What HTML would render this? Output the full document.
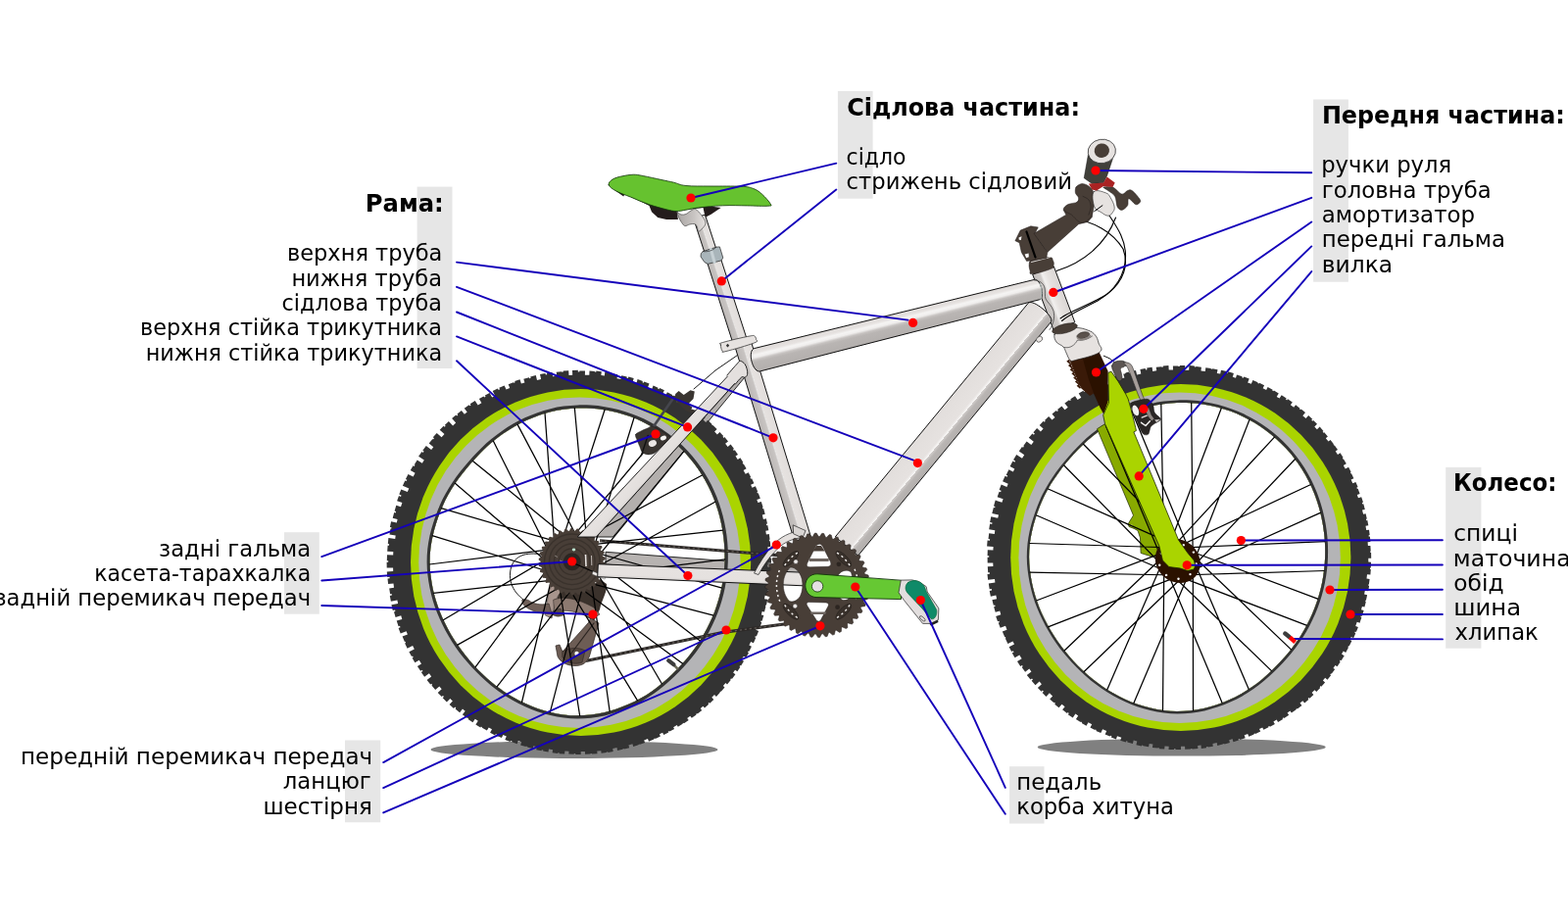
<!DOCTYPE html>
<html lang="uk"><head><meta charset="utf-8"><title>Велосипед</title>
<style>html,body{margin:0;padding:0;background:#fff}svg{display:block;will-change:transform}text{font-family:"DejaVu Sans","Liberation Sans",sans-serif;fill:#000}.b{font-weight:bold}</style></head>
<body>
<svg width="1600" height="942" viewBox="0 0 1600 942">
<defs><clipPath id="clip_rear"><path clip-rule="evenodd" d="M0 0H1700V1000H0ZM1351.6 568.4C1351.5 572.8 1351.1 577.1 1350.6 581.5C1350.1 585.8 1349.4 590.1 1348.6 594.4C1347.7 598.6 1346.6 602.9 1345.4 607C1344.2 611.2 1342.8 615.3 1341.3 619.4C1339.7 623.4 1338 627.4 1336.1 631.3C1334.3 635.2 1332.3 639.1 1330.1 642.8C1327.9 646.6 1325.6 650.2 1323.2 653.8C1320.7 657.4 1318.1 660.9 1315.4 664.2C1312.7 667.6 1309.8 670.9 1306.9 674.1C1303.9 677.3 1300.9 680.4 1297.7 683.4C1294.5 686.4 1291.3 689.4 1287.9 692.3C1284.5 695.1 1281.1 697.9 1277.4 700.4C1273.8 703 1270 705.4 1266.1 707.6C1262.2 709.8 1258.2 711.8 1254 713.6C1249.9 715.4 1245.7 717.1 1241.4 718.5C1237.1 720 1232.8 721.3 1228.3 722.3C1223.9 723.3 1219.4 724.1 1214.9 724.6C1210.3 725.1 1205.8 725.3 1201.2 725.3C1196.6 725.3 1192.1 724.9 1187.6 724.4C1183 723.8 1178.5 723 1174.1 721.9C1169.7 720.9 1165.3 719.6 1161.1 718.2C1156.8 716.7 1152.6 715 1148.5 713.1C1144.4 711.3 1140.4 709.2 1136.6 707C1132.7 704.8 1128.9 702.4 1125.3 699.9C1121.7 697.4 1118.1 694.7 1114.7 691.9C1111.3 689.1 1108 686.2 1104.9 683.2C1101.7 680.2 1098.7 677.1 1095.7 673.9C1092.8 670.7 1090 667.4 1087.3 664C1084.6 660.6 1082 657.2 1079.5 653.6C1077.1 650.1 1074.7 646.4 1072.5 642.7C1070.3 639 1068.3 635.2 1066.4 631.3C1064.5 627.4 1062.7 623.4 1061.1 619.4C1059.5 615.4 1058.1 611.2 1056.8 607.1C1055.6 602.9 1054.5 598.7 1053.6 594.4C1052.8 590.2 1052.1 585.8 1051.6 581.5C1051.1 577.2 1050.8 572.8 1050.8 568.4C1050.8 564 1051 559.6 1051.5 555.3C1052 551 1052.7 546.6 1053.7 542.4C1054.6 538.1 1055.8 533.9 1057.1 529.8C1058.3 525.6 1059.8 521.5 1061.4 517.5C1063 513.5 1064.7 509.5 1066.6 505.6C1068.5 501.8 1070.7 498 1072.9 494.3C1075.2 490.7 1077.6 487.1 1080.1 483.6C1082.6 480.1 1085.3 476.7 1088 473.4C1090.7 470.1 1093.5 466.8 1096.5 463.7C1099.4 460.5 1102.3 457.3 1105.5 454.3C1108.6 451.3 1111.8 448.4 1115.2 445.6C1118.6 442.8 1122.1 440.1 1125.7 437.6C1129.3 435.1 1133 432.7 1136.9 430.4C1140.7 428.2 1144.7 426.1 1148.7 424.3C1152.8 422.4 1157 420.7 1161.2 419.2C1165.5 417.7 1169.8 416.3 1174.2 415.3C1178.6 414.2 1183.1 413.3 1187.6 412.7C1192.1 412.1 1196.6 411.7 1201.2 411.5C1205.8 411.3 1210.3 411.4 1214.9 411.7C1219.5 412 1224 412.5 1228.6 413.2C1233.1 413.9 1237.6 414.9 1242 416C1246.5 417.2 1250.9 418.5 1255.2 420.1C1259.5 421.7 1263.7 423.5 1267.9 425.4C1272 427.4 1276.1 429.6 1280 432C1283.9 434.3 1287.7 436.9 1291.4 439.6C1295.1 442.3 1298.6 445.2 1302 448.2C1305.4 451.3 1308.7 454.5 1311.8 457.8C1314.9 461.2 1317.8 464.6 1320.6 468.2C1323.3 471.8 1325.9 475.6 1328.3 479.4C1330.7 483.2 1332.9 487.2 1334.9 491.2C1336.9 495.2 1338.8 499.3 1340.4 503.5C1342.1 507.6 1343.5 511.9 1344.8 516.1C1346.1 520.4 1347.2 524.7 1348.1 529C1349 533.4 1349.8 537.7 1350.3 542.1C1350.9 546.5 1351.3 550.9 1351.5 555.3C1351.7 559.6 1351.7 564 1351.6 568.4Z"/></clipPath><linearGradient id="g_ss" gradientUnits="userSpaceOnUse" x1="672" y1="455" x2="684" y2="466"><stop offset="0" stop-color="#dcd8d6"/><stop offset="0.3" stop-color="#e6e2e0"/><stop offset="0.8" stop-color="#e3dfdd"/><stop offset="1" stop-color="#d0ccca"/></linearGradient><linearGradient id="g_cs" gradientUnits="userSpaceOnUse" x1="716.3" y1="579.9" x2="715.7" y2="593.4"><stop offset="0" stop-color="#dcd8d6"/><stop offset="0.2" stop-color="#e6e2e0"/><stop offset="0.8" stop-color="#e5e1df"/><stop offset="1" stop-color="#d4d0ce"/></linearGradient><linearGradient id="g_ht" gradientUnits="userSpaceOnUse" x1="1086" y1="300.4" x2="1064.5" y2="308.6"><stop offset="0" stop-color="#dad6d4"/><stop offset="0.4" stop-color="#e6e2e0"/><stop offset="0.6" stop-color="#f2f0ef"/><stop offset="0.7" stop-color="#cfcbc9"/><stop offset="1" stop-color="#c4c0be"/></linearGradient><linearGradient id="g_dt" gradientUnits="userSpaceOnUse" x1="950.7" y1="428.6" x2="974" y2="447.9"><stop offset="0" stop-color="#e2dedc"/><stop offset="0.6" stop-color="#e6e2e0"/><stop offset="0.7" stop-color="#f8f7f6"/><stop offset="0.7" stop-color="#d0ccca"/><stop offset="0.8" stop-color="#b9b5b3"/><stop offset="1" stop-color="#b3afad"/></linearGradient><linearGradient id="g_st" gradientUnits="userSpaceOnUse" x1="796.7" y1="447.5" x2="780.2" y2="452.5"><stop offset="0" stop-color="#e1dddb"/><stop offset="0.5" stop-color="#e6e2e0"/><stop offset="0.5" stop-color="#ecebea"/><stop offset="0.6" stop-color="#c8c4c2"/><stop offset="1" stop-color="#bcb8b6"/></linearGradient><linearGradient id="g_sp" gradientUnits="userSpaceOnUse" x1="749.1" y1="305.7" x2="735" y2="310.3"><stop offset="0" stop-color="#e1dddb"/><stop offset="0.5" stop-color="#e6e2e0"/><stop offset="0.5" stop-color="#ecebea"/><stop offset="0.6" stop-color="#c8c4c2"/><stop offset="1" stop-color="#bcb8b6"/></linearGradient><linearGradient id="g_tt" gradientUnits="userSpaceOnUse" x1="912.5" y1="319.7" x2="918.3" y2="343.1"><stop offset="0" stop-color="#dedad8"/><stop offset="0.2" stop-color="#e6e2e0"/><stop offset="0.3" stop-color="#f5f4f3"/><stop offset="0.4" stop-color="#efedec"/><stop offset="0.5" stop-color="#c6c2c0"/><stop offset="0.6" stop-color="#b9b5b3"/><stop offset="1" stop-color="#b3afad"/></linearGradient><linearGradient id="g_up" gradientUnits="userSpaceOnUse" x1="724.9" y1="236.1" x2="713.2" y2="239.9"><stop offset="0" stop-color="#e1dddb"/><stop offset="0.5" stop-color="#e6e2e0"/><stop offset="0.5" stop-color="#ecebea"/><stop offset="0.6" stop-color="#c8c4c2"/><stop offset="1" stop-color="#bcb8b6"/></linearGradient><clipPath id="clip_front"><path clip-rule="evenodd" d="M0 0H1700V1000H0ZM1352.1 568.5C1352 572.9 1351.6 577.3 1351.1 581.6C1350.6 586 1349.9 590.3 1349.1 594.6C1348.2 598.9 1347.1 603.1 1345.9 607.3C1344.7 611.5 1343.3 615.6 1341.7 619.7C1340.2 623.8 1338.5 627.8 1336.6 631.7C1334.7 635.6 1332.7 639.5 1330.5 643.2C1328.3 647 1326 650.7 1323.6 654.3C1321.1 657.8 1318.5 661.3 1315.8 664.7C1313 668.1 1310.2 671.4 1307.2 674.6C1304.2 677.8 1301.2 680.9 1298 684C1294.8 687 1291.6 690 1288.2 692.9C1284.8 695.7 1281.3 698.5 1277.6 701C1274 703.6 1270.2 706 1266.3 708.2C1262.3 710.4 1258.3 712.4 1254.1 714.2C1250 716.1 1245.8 717.8 1241.5 719.2C1237.2 720.7 1232.8 722 1228.3 723C1223.9 724 1219.4 724.8 1214.8 725.3C1210.3 725.8 1205.7 726 1201.1 726C1196.5 726 1191.9 725.6 1187.4 725.1C1182.9 724.5 1178.4 723.7 1173.9 722.6C1169.5 721.6 1165.1 720.3 1160.8 718.8C1156.5 717.4 1152.3 715.7 1148.2 713.8C1144.1 711.9 1140.1 709.9 1136.2 707.6C1132.3 705.4 1128.5 703 1124.9 700.5C1121.2 698 1117.7 695.3 1114.3 692.5C1110.9 689.7 1107.6 686.8 1104.4 683.7C1101.2 680.7 1098.2 677.6 1095.2 674.4C1092.3 671.2 1089.4 667.9 1086.7 664.5C1084 661.1 1081.4 657.6 1078.9 654C1076.5 650.5 1074.1 646.8 1071.9 643.1C1069.7 639.4 1067.6 635.5 1065.7 631.6C1063.8 627.7 1062 623.7 1060.4 619.7C1058.8 615.7 1057.4 611.5 1056.1 607.3C1054.9 603.2 1053.8 598.9 1052.9 594.6C1052.1 590.3 1051.4 586 1050.9 581.6C1050.4 577.3 1050.1 572.9 1050.1 568.5C1050.1 564.1 1050.3 559.7 1050.8 555.3C1051.3 551 1052 546.7 1053 542.4C1053.9 538.1 1055.1 533.9 1056.4 529.7C1057.7 525.6 1059.1 521.4 1060.7 517.4C1062.3 513.4 1064 509.4 1066 505.5C1067.9 501.6 1070.1 497.8 1072.3 494.1C1074.6 490.5 1077 486.9 1079.5 483.4C1082.1 479.9 1084.7 476.5 1087.4 473.1C1090.2 469.8 1093 466.5 1095.9 463.3C1098.9 460.1 1101.8 457 1105 454C1108.1 450.9 1111.4 448 1114.8 445.2C1118.1 442.4 1121.7 439.7 1125.3 437.2C1128.9 434.6 1132.7 432.2 1136.5 430C1140.4 427.8 1144.4 425.7 1148.4 423.8C1152.5 421.9 1156.7 420.2 1161 418.7C1165.2 417.2 1169.6 415.9 1174 414.8C1178.4 413.7 1182.9 412.8 1187.4 412.2C1191.9 411.6 1196.5 411.2 1201.1 411C1205.7 410.8 1210.3 410.9 1214.9 411.2C1219.4 411.5 1224 412 1228.6 412.7C1233.1 413.4 1237.6 414.4 1242.1 415.5C1246.5 416.7 1251 418.1 1255.3 419.6C1259.6 421.2 1263.9 423 1268 425C1272.2 427 1276.2 429.2 1280.2 431.5C1284.1 433.9 1288 436.5 1291.6 439.2C1295.3 441.9 1298.9 444.8 1302.3 447.9C1305.7 450.9 1309 454.1 1312.1 457.5C1315.2 460.8 1318.2 464.3 1320.9 468C1323.7 471.6 1326.3 475.3 1328.7 479.2C1331.1 483 1333.3 487 1335.3 491C1337.4 495 1339.2 499.2 1340.9 503.3C1342.5 507.5 1344 511.7 1345.3 516C1346.6 520.3 1347.7 524.6 1348.6 529C1349.5 533.3 1350.3 537.7 1350.8 542.1C1351.4 546.5 1351.8 550.9 1352 555.3C1352.2 559.7 1352.2 564.1 1352.1 568.5Z"/></clipPath><linearGradient id="g_head" x1="0" y1="0" x2="1" y2="0"><stop offset="0" stop-color="#a9a5a3"/><stop offset="0.6" stop-color="#c9c5c3"/><stop offset="1" stop-color="#e4e0de"/></linearGradient><radialGradient id="g_rim" gradientUnits="userSpaceOnUse" cx="1203" cy="569" r="168"><stop offset="0.9" stop-color="#c4c4c4"/><stop offset="0.95" stop-color="#b4b4bc"/><stop offset="1" stop-color="#b3b3b3"/></radialGradient></defs>
<ellipse cx="1205.7" cy="762.6" rx="147" ry="9" fill="#808080"/>
<ellipse cx="586" cy="765" rx="146.5" ry="9" fill="#808080"/>
<rect x="425.6" y="190.6" width="35.9" height="185.4" fill="#e6e6e6"/>
<rect x="854.9" y="93" width="35.7" height="109.7" fill="#e6e6e6"/>
<rect x="1340.1" y="101.5" width="35.8" height="186.2" fill="#e6e6e6"/>
<rect x="1475.2" y="476.9" width="36.2" height="184.8" fill="#e6e6e6"/>
<rect x="290" y="543.2" width="35.8" height="83.5" fill="#e6e6e6"/>
<rect x="352" y="755.5" width="36.2" height="83.8" fill="#e6e6e6"/>
<rect x="1030" y="782.2" width="35.5" height="58.3" fill="#e6e6e6"/>
<path d="M765.5 374 L769 374 L625.4 548 L608.4 548Z" fill="#b3afad" stroke="#111" stroke-width="0.9" stroke-linejoin="round"/>
<path d="M618 563.3 L820 578.5 L820 590 L618 576Z" fill="#b7b3b1" stroke="#111" stroke-width="0.9" stroke-linejoin="round"/>
<g transform="translate(-612.2 5)"><g clip-path="url(#clip_rear)">
<path d="M1395.7 569.8 L1395.6 573.5 L1399 573.5 L1398.8 579.3 L1397.7 579.3 L1397.7 580.8 L1398.4 580.8 L1398 586.6 L1395 586.3 L1394.6 590.5 L1397.9 590.9 L1397.2 596.3 L1396.1 596.2 L1395.9 597.7 L1397.1 597.8 L1396.2 603.3 L1392.8 602.7 L1392.2 606.2 L1395.4 606.8 L1394.2 612.5 L1393.6 612.4 L1393.2 613.8 L1393.6 613.9 L1392.2 619.6 L1389.9 619 L1389 622.4 L1391.5 623.1 L1389.8 628.7 L1388.8 628.4 L1388.4 629.8 L1389.4 630.2 L1387.5 635.7 L1384.5 634.6 L1383.3 637.8 L1386.3 639 L1384.1 644.4 L1383.1 644 L1382.5 645.4 L1383.5 645.8 L1381.1 651.2 L1378.3 649.9 L1376.6 653.5 L1379.1 654.7 L1376.6 659.7 L1375.9 659.4 L1375.2 660.7 L1376.2 661.2 L1373.5 666.1 L1371 664.7 L1368.9 668.4 L1371.2 669.8 L1368.3 674.4 L1367.5 673.9 L1366.7 675.2 L1367.6 675.8 L1364.6 680.3 L1362.3 678.7 L1360.3 681.5 L1362.6 683.2 L1359.1 687.9 L1358.3 687.2 L1357.4 688.4 L1357.9 688.9 L1354.2 693.4 L1352.6 692.1 L1350.1 695.1 L1351.7 696.5 L1348 700.7 L1347.7 700.5 L1346.7 701.6 L1346.9 701.8 L1343.1 705.9 L1341.2 704 L1338.5 706.8 L1340.5 708.9 L1336.5 712.8 L1335.8 712.1 L1334.7 713.1 L1335.4 713.8 L1331.2 717.5 L1329.6 715.7 L1326.9 718 L1328.4 719.9 L1323.9 723.5 L1323.5 723 L1322.3 723.9 L1322.7 724.4 L1318 727.8 L1316.5 725.7 L1313.4 728 L1314.9 730.1 L1310.2 733.2 L1309.9 732.8 L1308.6 733.6 L1308.8 733.8 L1304 736.8 L1302.9 735.1 L1299.3 737.2 L1300.3 739 L1295.5 741.6 L1295.2 741 L1293.9 741.7 L1294.4 742.6 L1289.5 745.1 L1288.3 742.7 L1285.1 744.2 L1286.1 746.6 L1280.9 749 L1280.7 748.4 L1279.3 749 L1279.5 749.5 L1274.2 751.7 L1273.2 749 L1269.4 750.4 L1270.3 752.9 L1265.1 754.7 L1265 754.4 L1263.6 754.9 L1263.7 755.2 L1258.4 756.9 L1257.6 754.3 L1253.6 755.4 L1254.4 758.2 L1249.1 759.6 L1248.9 759 L1247.5 759.4 L1247.6 759.7 L1242.2 760.9 L1241.7 758.1 L1237.4 758.9 L1237.9 762.1 L1232.6 763 L1232.5 762.2 L1231 762.4 L1231.1 763.1 L1225.8 763.8 L1225.5 761.2 L1221.5 761.6 L1221.7 764.2 L1216.2 764.6 L1216.1 764 L1214.7 764.1 L1214.7 764.5 L1209.2 764.7 L1209.1 762 L1204.9 762.1 L1204.9 765.1 L1199.4 765 L1199.4 764 L1198 763.9 L1197.9 764.7 L1192.5 764.5 L1192.7 761.7 L1188.6 761.4 L1188.3 764.6 L1182.8 764.2 L1182.9 763.3 L1181.4 763.2 L1181.3 763.9 L1175.8 763.2 L1176.3 760.3 L1172.2 759.6 L1171.7 762.6 L1166.3 761.6 L1166.5 760.4 L1165 760.2 L1164.8 761.3 L1159.4 760.2 L1160.1 757.2 L1156.5 756.3 L1155.8 759 L1150.3 757.5 L1150.4 757.1 L1148.9 756.6 L1148.8 757.1 L1143.3 755.4 L1144.4 752.3 L1141 751.1 L1139.9 754.3 L1134.4 752.3 L1134.8 751.4 L1133.4 750.9 L1132.9 752.1 L1127.5 749.9 L1129 746.4 L1125.6 744.9 L1124.1 748.1 L1118.9 745.7 L1119.4 744.8 L1118 744.1 L1117.4 745.4 L1112.3 742.8 L1114.2 739.2 L1110.9 737.4 L1109.1 740.6 L1104.1 737.8 L1104.4 737.4 L1103.1 736.6 L1102.5 737.5 L1097.6 734.5 L1100 730.8 L1097 728.8 L1094.6 732.3 L1089.8 729 L1090.3 728.2 L1089.1 727.4 L1088.8 727.8 L1084.1 724.3 L1086.9 720.8 L1084.2 718.6 L1081.3 722.2 L1076.8 718.4 L1077.5 717.5 L1076.4 716.5 L1075.2 717.9 L1070.8 713.9 L1074.1 710.4 L1071.5 707.9 L1068.1 711.4 L1063.9 707.3 L1065.2 706 L1064.2 705 L1062.9 706.1 L1058.9 701.9 L1062.9 698.2 L1060.5 695.5 L1056.4 699.1 L1052.6 694.6 L1053.4 693.9 L1052.5 692.8 L1051.4 693.6 L1047.8 689 L1052.4 685.5 L1050.1 682.3 L1045.3 685.7 L1042 681.1 L1043.7 680 L1042.8 678.7 L1041.3 679.7 L1038.1 675 L1042.2 672.5 L1039.9 668.7 L1035.6 671.3 L1032.8 666.5 L1034 665.9 L1033.2 664.5 L1032.2 665.1 L1029.6 660.3 L1035 657.5 L1033.3 654.1 L1027.8 656.8 L1025.3 651.6 L1026.4 651.1 L1025.7 649.7 L1025.1 650 L1022.8 644.6 L1028.1 642.5 L1026.8 639.2 L1020.9 641.5 L1018.8 635.9 L1020.7 635.2 L1020.2 633.8 L1018.8 634.3 L1016.9 628.6 L1022.5 626.9 L1021.4 623.3 L1015.8 625 L1014.2 619.4 L1015.6 619 L1015.3 617.5 L1013 618.1 L1011.6 612.3 L1018.3 610.9 L1017.6 607.5 L1011.1 608.8 L1010 602.9 L1012.1 602.5 L1011.8 601 L1010.3 601.3 L1009.4 595.4 L1014.2 594.7 L1013.7 590.4 L1008.3 591 L1007.7 585.5 L1009.9 585.3 L1009.7 583.8 L1007.4 583.9 L1007 578.4 L1013.4 578.1 L1013.3 574.5 L1006.9 574.6 L1006.8 568.7 L1008.4 568.7 L1008.4 567.2 L1007 567.2 L1007.2 561.2 L1013.4 561.5 L1013.5 558 L1007.4 557.7 L1007.8 551.7 L1009.2 551.8 L1009.3 550.3 L1008 550.1 L1008.6 544.1 L1015.4 545 L1015.9 541.4 L1009.7 540.5 L1010.7 534.6 L1011.4 534.8 L1011.7 533.3 L1010.1 533 L1011.3 527.2 L1017 528.4 L1017.8 524.9 L1012.9 523.7 L1014.4 518 L1015.9 518.4 L1016.3 516.9 L1014.8 516.5 L1016.5 510.8 L1021.2 512.3 L1022.6 508.1 L1017.3 506.3 L1019.2 501.1 L1021.2 501.9 L1021.7 500.4 L1019.5 499.6 L1021.5 494.5 L1028 497.1 L1029.5 493.5 L1023.1 490.7 L1025.5 485.5 L1026.9 486.1 L1027.6 484.7 L1026.1 484.1 L1028.7 478.9 L1033.8 481.5 L1035.8 477.7 L1031 475.1 L1033.7 470.2 L1034.9 470.9 L1035.7 469.6 L1035 469.2 L1037.9 464.5 L1043 467.7 L1045 464.5 L1039.3 460.8 L1042.6 456 L1043.9 456.9 L1044.8 455.6 L1043.5 454.7 L1047 450 L1052.3 454 L1054.5 451.2 L1049.9 447.6 L1053.6 443 L1054.2 443.5 L1055.2 442.3 L1054 441.3 L1057.9 436.9 L1062.8 441.3 L1065.7 438.1 L1060.9 433.7 L1064.8 429.7 L1065.9 430.7 L1066.9 429.7 L1066.1 428.8 L1070.1 425 L1074.3 429.5 L1077.4 426.6 L1073.3 422.1 L1077.5 418.4 L1078.3 419.4 L1079.5 418.4 L1078.7 417.5 L1083.1 414 L1086.1 417.8 L1088.9 415.6 L1086 411.8 L1090.8 408.3 L1091.5 409.3 L1092.7 408.4 L1091.9 407.3 L1096.9 404 L1099.9 408.6 L1103.6 406.2 L1101.1 402.1 L1105.7 399.4 L1106.4 400.5 L1107.7 399.8 L1107.1 398.6 L1111.8 396 L1114.3 400.6 L1117.4 398.9 L1114.9 393.9 L1120.1 391.4 L1120.9 393 L1122.3 392.3 L1121.5 390.7 L1126.9 388.4 L1128.7 392.4 L1132.4 390.9 L1130.9 387.2 L1136.1 385.2 L1136.4 385.8 L1137.8 385.3 L1137.4 384.1 L1142.7 382.3 L1144.1 386.5 L1147.6 385.4 L1146.5 381.8 L1152.1 380.2 L1152.4 381.3 L1153.8 380.9 L1153.4 379.4 L1159 378 L1160.2 382.9 L1164.3 382 L1163.2 377.1 L1168.7 376 L1169 377.6 L1170.4 377.3 L1170.2 375.7 L1175.6 374.9 L1176.3 379.3 L1180.4 378.7 L1179.9 374.7 L1185.4 374.2 L1185.5 374.7 L1187 374.6 L1186.9 373.6 L1192.4 373.3 L1192.7 378 L1196.4 377.8 L1196.2 372.9 L1202 372.8 L1202 374.5 L1203.5 374.5 L1203.5 373.4 L1209.2 373.4 L1209.1 377.7 L1213.5 377.8 L1213.7 373.6 L1219.1 374 L1219 374.5 L1220.5 374.7 L1220.6 373.6 L1226 374.2 L1225.6 377.9 L1229 378.4 L1229.5 374.8 L1235.3 375.6 L1235.2 376.5 L1236.6 376.8 L1236.7 376.2 L1242.5 377.3 L1241.7 381.3 L1245.6 382.1 L1246.4 378.2 L1251.9 379.5 L1251.6 380.5 L1253.1 380.9 L1253.5 379.4 L1258.9 380.9 L1257.9 384.4 L1261.8 385.6 L1262.8 382.1 L1268.1 383.9 L1267.7 385.3 L1269.1 385.8 L1269.5 384.6 L1274.7 386.5 L1273.2 390.4 L1277.4 392.1 L1278.8 388.6 L1283.7 390.7 L1283.3 391.6 L1284.7 392.2 L1285.2 391 L1290.1 393.3 L1288.6 396.3 L1291.8 397.9 L1293.1 395.3 L1298.3 398 L1298.1 398.4 L1299.4 399.2 L1299.8 398.5 L1304.8 401.4 L1302.7 404.9 L1306.1 406.9 L1308 403.8 L1312.7 406.9 L1312.5 407.3 L1313.7 408.1 L1314.1 407.5 L1318.8 410.8 L1316.9 413.3 L1320.2 415.8 L1322.1 413.2 L1326.4 416.7 L1325.7 417.6 L1326.8 418.6 L1327.7 417.5 L1332 421.1 L1329.8 423.6 L1332.4 425.9 L1334.3 423.8 L1338.6 427.8 L1338.3 428.1 L1339.4 429.2 L1339.7 428.9 L1343.8 433 L1341.3 435.5 L1344.1 438.4 L1346.6 436 L1350.4 440.1 L1349.7 440.7 L1350.7 441.9 L1351.6 441.1 L1355.2 445.4 L1352.3 447.8 L1354.8 450.9 L1357.8 448.5 L1361.2 453 L1360.2 453.8 L1361 455 L1362 454.3 L1365.2 458.9 L1362.7 460.6 L1365 464 L1367.6 462.3 L1370.6 467 L1369.8 467.4 L1370.6 468.7 L1371 468.5 L1373.8 473.3 L1370.8 475 L1372.9 478.8 L1375.9 477.2 L1378.4 482 L1377.6 482.4 L1378.3 483.8 L1379.3 483.2 L1381.6 488.2 L1378.3 489.7 L1379.7 492.8 L1383.1 491.2 L1385.4 496.7 L1384.6 497.1 L1385.2 498.5 L1386 498.2 L1388 503.7 L1384.5 505 L1385.6 508.1 L1389 507 L1390.8 512.7 L1390.1 512.9 L1390.6 514.3 L1391.4 514.1 L1392.9 519.8 L1390 520.6 L1391.1 524.9 L1394 524.2 L1395.2 529.5 L1394 529.7 L1394.3 531.2 L1395.5 531 L1396.5 536.3 L1393.5 536.8 L1394.1 540.4 L1397 539.9 L1397.8 545.7 L1397 545.8 L1397.2 547.3 L1398 547.2 L1398.5 553 L1395.6 553.2 L1396 557.6 L1398.9 557.5 L1399.1 562.9 L1398.3 562.9 L1398.3 564.4 L1399.1 564.4 L1399.2 569.8Z" fill="#333"/>
<ellipse cx="1204.8" cy="569" rx="173.6" ry="177" fill="#aad400"/>
<ellipse cx="1203.6" cy="569.3" rx="164.2" ry="168.8" fill="#b4b4b6"/>
<path d="M1355 568.4C1354.9 572.9 1354.5 577.3 1354 581.8C1353.5 586.2 1352.8 590.6 1351.9 594.9C1351 599.3 1350 603.6 1348.7 607.9C1347.5 612.1 1346.1 616.3 1344.5 620.5C1342.9 624.6 1341.1 628.7 1339.2 632.7C1337.3 636.7 1335.3 640.6 1333.1 644.4C1330.8 648.2 1328.5 652 1326 655.6C1323.5 659.3 1320.8 662.8 1318 666.3C1315.3 669.7 1312.3 673 1309.3 676.3C1306.3 679.6 1303.2 682.7 1299.9 685.8C1296.7 688.9 1293.4 692 1289.9 694.8C1286.5 697.7 1282.9 700.5 1279.2 703.1C1275.5 705.7 1271.6 708.2 1267.6 710.4C1263.6 712.6 1259.5 714.7 1255.3 716.5C1251.1 718.4 1246.8 720.1 1242.4 721.5C1238.1 723 1233.6 724.3 1229.1 725.4C1224.6 726.4 1219.9 727.2 1215.3 727.7C1210.7 728.2 1206 728.4 1201.4 728.4C1196.8 728.4 1192.1 728 1187.5 727.4C1182.9 726.9 1178.3 726 1173.8 725C1169.3 724 1164.8 722.7 1160.5 721.2C1156.1 719.7 1151.8 718 1147.7 716.1C1143.5 714.2 1139.4 712.1 1135.4 709.8C1131.5 707.6 1127.6 705.1 1123.9 702.6C1120.2 700 1116.6 697.3 1113.1 694.5C1109.6 691.6 1106.3 688.7 1103.1 685.6C1099.8 682.5 1096.7 679.4 1093.7 676.1C1090.7 672.8 1087.8 669.5 1085 666C1082.3 662.6 1079.6 659 1077.1 655.4C1074.6 651.8 1072.2 648.1 1070 644.3C1067.7 640.5 1065.6 636.6 1063.7 632.6C1061.7 628.7 1059.9 624.6 1058.3 620.5C1056.7 616.4 1055.2 612.2 1053.9 607.9C1052.7 603.7 1051.6 599.3 1050.7 595C1049.8 590.6 1049.1 586.2 1048.6 581.8C1048.1 577.3 1047.8 572.9 1047.8 568.4C1047.8 563.9 1048 559.5 1048.5 555C1049 550.6 1049.8 546.2 1050.7 541.8C1051.7 537.5 1052.9 533.2 1054.2 529C1055.5 524.7 1057 520.5 1058.6 516.4C1060.2 512.3 1062 508.2 1063.9 504.3C1065.9 500.4 1068.1 496.5 1070.4 492.8C1072.7 489 1075.2 485.4 1077.7 481.8C1080.3 478.2 1083 474.8 1085.8 471.4C1088.6 468 1091.5 464.7 1094.4 461.4C1097.4 458.2 1100.5 455 1103.7 451.9C1106.8 448.8 1110.2 445.9 1113.6 443C1117.1 440.2 1120.6 437.5 1124.3 434.9C1128 432.3 1131.8 429.9 1135.8 427.6C1139.7 425.4 1143.7 423.2 1147.9 421.3C1152 419.4 1156.3 417.7 1160.6 416.2C1164.9 414.6 1169.4 413.3 1173.9 412.2C1178.3 411.1 1182.9 410.2 1187.5 409.6C1192.1 409 1196.8 408.6 1201.4 408.4C1206 408.2 1210.7 408.3 1215.4 408.6C1220 408.9 1224.7 409.4 1229.3 410.2C1233.9 410.9 1238.5 411.8 1243 413C1247.6 414.2 1252 415.6 1256.4 417.2C1260.8 418.8 1265.2 420.6 1269.4 422.6C1273.6 424.6 1277.7 426.8 1281.7 429.2C1285.7 431.6 1289.6 434.2 1293.4 437C1297.2 439.8 1300.8 442.7 1304.3 445.8C1307.7 448.9 1311.1 452.2 1314.2 455.6C1317.4 459 1320.4 462.5 1323.2 466.2C1326 469.9 1328.6 473.7 1331.1 477.6C1333.5 481.5 1335.8 485.5 1337.9 489.6C1339.9 493.7 1341.8 497.9 1343.5 502.1C1345.2 506.4 1346.7 510.7 1348 515C1349.3 519.4 1350.5 523.8 1351.4 528.2C1352.4 532.6 1353.1 537.1 1353.7 541.5C1354.3 546 1354.7 550.5 1354.9 555C1355.1 559.4 1355.1 563.9 1355 568.4Z" fill="#333"/>
</g></g>
<path d="M612 551.8 L812 568.1" fill="none" stroke="#2d2927" stroke-width="3.1"/>
<path d="M612 551.8 L812 568.1" fill="none" stroke="#5d5854" stroke-width="1.3" stroke-dasharray="2.2 2.8"/>
<path d="M598 674.5 L737 645.5 L800 637" fill="none" stroke="#2d2927" stroke-width="3.1"/>
<path d="M598 674.5 L737 645.5 L800 637" fill="none" stroke="#5d5854" stroke-width="1.3" stroke-dasharray="2.2 2.8"/>
<path d="M553 566 C538 563 522 566 520.5 585 C519.5 600 530 612 545 618" fill="none" stroke="#000" stroke-width="0.9" stroke-linejoin="round" stroke-linecap="round"/>
<path d="M578 600 C590 606 604 600 612 591 L619 596 C620 604 614 612 612 622 L606 634 L596 628 C588 622 574 624 566 620 L570 606 Z" fill="#3b322c" stroke="none" stroke-width="0.8" stroke-linejoin="round" stroke-linecap="round"/>
<path d="M560 604 C562 596 568 590 576 589.5 C579 592 579 598 577 602 C572 603 568 608 566 618 L563 631 L556.5 628 Z" fill="#a8958d" stroke="#2b2420" stroke-width="0.6" stroke-linejoin="round" stroke-linecap="round"/>
<path d="M533 612.5 C536 610.5 540 612.5 542 614.5 C548 617 554 617.5 560 616 L563 626 C555 627 546 625 540 621.5 C536 619.5 532 616.5 533 612.5 Z" fill="#6f5f58" stroke="#2b2420" stroke-width="0.6" stroke-linejoin="round" stroke-linecap="round"/>
<path d="M565 612 C575 608 590 611 606 620 L612 627 L604 632 C592 624 578 622 566 624 Z" fill="#8c7970" stroke="#2b2420" stroke-width="0.6" stroke-linejoin="round" stroke-linecap="round"/>
<path d="M562 626 C566 630 572 630 576 627 L572 621 C568 622 564 623 562 626 Z" fill="#5a4c45" stroke="#2b2420" stroke-width="0.5" stroke-linejoin="round" stroke-linecap="round"/>
<path d="M603 631 L611 636 L602 668 C600 676 594 680 586 679.5 C578 679 572 676 569 670 L567 659 L571 658 L574 665 L600 636 Z" fill="#6d5d55" stroke="#2b2420" stroke-width="0.7" stroke-linejoin="round" stroke-linecap="round"/>
<path d="M574 665 C580 661 590 660 597 664 L594 676 C586 679 578 676 574 671 Z" fill="#55473f" stroke="#2b2420" stroke-width="0.6" stroke-linejoin="round" stroke-linecap="round"/>
<path d="M606 636 L582 668" fill="none" stroke="#2b2420" stroke-width="1.2" stroke-linejoin="round" stroke-linecap="round"/>
<circle cx="588.5" cy="667" r="2.2" fill="#fff" stroke="none" stroke-width="0.8"/>
<g transform="translate(-612.2 5)"><path d="M1352.3 565.8L1201.2 584.4M1349 595.1L1203.7 554.5M1340.4 623.2L1194.6 585.1M1326.9 649.3L1209 558.4M1309.1 672.6L1188.2 583.3M1287.8 693.2L1212.3 563.8M1262.8 710.1L1183.1 579.3M1234.4 721.4L1213.2 570.1M1203.9 725.9L1179.9 573.7M1173.4 722.4L1211.4 576.1M1144.6 712L1179.3 567.5M1119.1 696.1L1207.4 581.1M1097.1 676.2L1181.2 561.4M1078.7 653.4L1201.7 584.3M1064.1 628L1185.4 556.5M1054.3 600.3L1195.1 585.1M1050.3 571L1191.2 553.6M1053.2 541.6L1188.7 583.5M1062.3 513.7L1197.8 552.9M1076.3 488.1L1183.4 579.6M1094.3 465.2L1204.2 554.7M1115.4 444.7L1180.1 574.2M1140.1 427.9L1209.3 558.7M1168.2 416.3L1179.2 567.9M1198.5 411L1212.5 564.3M1229.4 412.7L1181 561.9M1259.3 421L1213.1 570.5M1286.7 435.5L1185 556.9M1310.3 455.4L1211.2 576.6M1329.1 479.7L1190.7 553.7M1342.4 507L1207 581.5M1350.1 536.1L1197.3 552.9" fill="none" stroke="#000" stroke-width="1.25"/>
</g>
<path d="M615.4 573.3 L617.9 575.2 L617.8 576.8 L615 578.2 L614.9 579.1 L617 581.4 L616.6 583 L613.6 583.9 L613.3 584.7 L615 587.4 L614.3 588.8 L611.1 589.2 L610.7 589.9 L611.8 592.9 L610.9 594.2 L607.7 593.9 L607.2 594.6 L607.8 597.7 L606.6 598.8 L603.5 598 L602.8 598.5 L602.9 601.7 L601.5 602.5 L598.7 601.2 L597.9 601.6 L597.3 604.7 L595.9 605.3 L593.3 603.4 L592.4 603.7 L591.3 606.7 L589.8 607 L587.6 604.7 L586.7 604.8 L585.1 607.5 L583.5 607.5 L581.8 604.8 L580.9 604.8 L578.8 607.1 L577.2 606.9 L576 603.9 L575.2 603.7 L572.6 605.6 L571.2 605.1 L570.5 602 L569.7 601.6 L566.9 603 L565.5 602.2 L565.5 599 L564.8 598.5 L561.7 599.4 L560.5 598.4 L561 595.2 L560.4 594.6 L557.3 594.9 L556.3 593.7 L557.4 590.7 L556.9 589.9 L553.8 589.7 L553 588.3 L554.7 585.5 L554.3 584.7 L551.3 583.9 L550.8 582.4 L552.9 580 L552.7 579.1 L549.9 577.7 L549.7 576.1 L552.2 574.2 L552.2 573.3 L549.7 571.4 L549.8 569.8 L552.6 568.4 L552.7 567.5 L550.6 565.2 L551 563.6 L554 562.7 L554.3 561.9 L552.6 559.2 L553.3 557.8 L556.5 557.4 L556.9 556.7 L555.8 553.7 L556.7 552.4 L559.9 552.7 L560.4 552 L559.8 548.9 L561 547.8 L564.1 548.6 L564.8 548.1 L564.7 544.9 L566.1 544.1 L568.9 545.4 L569.7 545 L570.3 541.9 L571.7 541.3 L574.3 543.2 L575.2 542.9 L576.3 539.9 L577.8 539.6 L580 541.9 L580.9 541.8 L582.5 539.1 L584.1 539.1 L585.8 541.8 L586.7 541.8 L588.8 539.5 L590.4 539.7 L591.6 542.7 L592.4 542.9 L595 541 L596.4 541.5 L597.1 544.6 L597.9 545 L600.7 543.6 L602.1 544.4 L602.1 547.6 L602.8 548.1 L605.9 547.2 L607.1 548.2 L606.6 551.4 L607.2 552 L610.3 551.7 L611.3 552.9 L610.2 555.9 L610.7 556.7 L613.8 556.9 L614.6 558.3 L612.9 561.1 L613.3 561.9 L616.3 562.7 L616.8 564.2 L614.7 566.6 L614.9 567.5 L617.7 568.9 L617.9 570.5 L615.4 572.4Z" fill="#483e37"/>
<circle cx="583.8" cy="573.3" r="29" fill="#3a322c" stroke="none" stroke-width="0.8"/>
<circle cx="583.8" cy="573.3" r="27.6" fill="#483e37" stroke="none" stroke-width="0.8"/>
<circle cx="583.8" cy="573.3" r="24" fill="#3a322c" stroke="none" stroke-width="0.8"/>
<circle cx="583.8" cy="573.3" r="22.6" fill="#483e37" stroke="none" stroke-width="0.8"/>
<circle cx="583.8" cy="573.3" r="19" fill="#3a322c" stroke="none" stroke-width="0.8"/>
<circle cx="583.8" cy="573.3" r="17.6" fill="#483e37" stroke="none" stroke-width="0.8"/>
<circle cx="583.8" cy="573.3" r="14" fill="#39312b" stroke="none" stroke-width="0.8"/>
<circle cx="583.8" cy="573.3" r="12.8" fill="#483e37" stroke="none" stroke-width="0.8"/>
<circle cx="583.8" cy="573.3" r="9" fill="#2c2622" stroke="none" stroke-width="0.8"/>
<path d="M597.5 566 L598 578" stroke="#e8e4e2" stroke-width="1.6" fill="none"/>
<path d="M603.5 567 L603.8 577" stroke="#c9c3bf" stroke-width="0.9" fill="none"/>
<ellipse cx="585.5" cy="561" rx="1.8" ry="1.4" fill="#b9e0cc" stroke="none" stroke-width="0.8"/>
<path d="M566 567 L569 568.5 M571 572 L574 573" stroke="#8b8480" stroke-width="0.9" fill="none"/>
<path d="M587 575.5 L610 585.5" stroke="#000" stroke-width="1.1" fill="none"/>
<path d="M605 583 L618 588.5 L617.2 591.2 L604.3 586Z" fill="#efecea" stroke="#555" stroke-width="0.4" stroke-linejoin="round"/>
<path d="M752.5 362.5 L730 378 L708 397" fill="none" stroke="#000" stroke-width="0.9" stroke-linejoin="round" stroke-linecap="round"/>
<path d="M689.2 402 L692.6 399 L697.7 403 L704.5 398.2 L708.8 399.4 L707.5 407.1 L703.2 411.3 L704.9 417.3 L710.5 419 L707.9 422.4 L699.4 419 L690.9 410.5 L688.4 406.2Z" fill="#3a3531" stroke="none" stroke-width="0" stroke-linejoin="round" stroke-linecap="round"/>
<path d="M686.3 407.5 L660.4 444.4" fill="none" stroke="#45464d" stroke-width="2.6" stroke-linejoin="round" stroke-linecap="round"/>
<path d="M648.5 443.6C649.1 442 651.5 441.3 653.6 440.2C655.7 439 659.2 437.6 661.2 436.8C663.2 435.9 663.3 434.7 665.5 435.1C667.6 435.5 671.4 437.9 674 439.3C676.5 440.7 679 442.2 680.7 443.6C682.4 445 684.3 446.3 684.1 447.8C684 449.4 681.6 451.4 679.9 452.9C678.2 454.5 675.9 455.6 674 457.2C672 458.7 670.1 461.1 668 462.2C665.9 463.4 663.3 464.1 661.2 463.9C659.1 463.8 656.7 462.8 655.3 461.4C653.9 460 653.6 457.4 652.7 455.5C651.9 453.5 650.9 451.5 650.2 449.5C649.5 447.5 647.9 445.1 648.5 443.6Z" fill="#3a3531" stroke="#111" stroke-width="0.4" stroke-linejoin="round" stroke-linecap="round"/>
<ellipse cx="665.9" cy="452.5" rx="4.2" ry="3.2" fill="#ebe7e5" stroke="none" stroke-width="0" transform="rotate(-25 665.9 452.5)"/>
<ellipse cx="676.9" cy="447" rx="3.2" ry="2.2" fill="#f7f6f5" stroke="none" stroke-width="0" transform="rotate(-25 676.9 447)"/>
<path d="M661.2 444.4 L654.4 464.8" fill="none" stroke="#111" stroke-width="1.4" stroke-linejoin="round" stroke-linecap="round"/>
<path d="M751.8 374 L765.4 374 L608.4 548 L589.3 548Z" fill="url(#g_ss)" stroke="#111" stroke-width="0.9" stroke-linejoin="round"/>
<path d="M610.3 575.7L822.3 584.3L821.7 597.9L609.7 588.7Z" fill="url(#g_cs)" stroke="#111" stroke-width="1" stroke-linejoin="round"/>
<path d="M1075.3 271.9L1096.8 328.9L1075.2 337.1L1053.7 280.1Z" fill="url(#g_ht)" stroke="#111" stroke-width="1" stroke-linejoin="round"/>
<path d="M852.3 547.9L1049.2 309.4C1053.4 304.2 1076.7 323.5 1072.4 328.6L875.6 567.1Z" fill="url(#g_dt)" stroke="#111" stroke-width="1" stroke-linejoin="round"/>
<path d="M766.1 347.5L827.3 547.5L810.8 552.5L749.6 352.5Z" fill="url(#g_st)" stroke="#111" stroke-width="1" stroke-linejoin="round"/>
<path d="M734.8 261.8L763.3 349.7L749.2 354.3L721.1 266.2Z" fill="url(#g_sp)" stroke="#111" stroke-width="1" stroke-linejoin="round"/>
<path d="M769.9 355.5L1055.4 285.4C1061.9 283.8 1067 304.2 1060.6 305.8L775.7 378.9C768 380.9 762.1 357.4 769.9 355.5Z" fill="url(#g_tt)" stroke="#111" stroke-width="1" stroke-linejoin="round"/>
<path d="M741.8 383.1C743.6 381 750.2 373.3 752.5 370.9C754.7 368.4 754.2 368.3 755.4 368.4C756.7 368.5 758.8 370 759.9 371.4C761 372.8 761.8 374.9 762.2 376.7C762.7 378.6 762.9 381.1 762.5 382.5C762.2 384 760.9 384.8 759.9 385.2C758.9 385.6 758.3 383.8 756.7 385C755.1 386.1 751.4 390.9 750.3 392.1" fill="#e4e0de" stroke="#111" stroke-width="0.9" stroke-linejoin="round" stroke-linecap="round"/>
<ellipse cx="1060.6" cy="346.2" rx="3.4" ry="2.6" fill="#e9e5e3" stroke="#333" stroke-width="0.6" transform="rotate(-40 1060.6 346.2)"/>
<path d="M1055.5 286 C1061 286.5 1065 289 1066 294 C1066.8 298 1065.8 302 1067 305 C1069 309 1073.5 312 1075 317.5 C1076.5 324 1075 331 1071 336.5" fill="none" stroke="#333" stroke-width="0.7" stroke-linejoin="round" stroke-linecap="round"/>
<path d="M1061 289.5 C1063.5 293 1063.5 300 1062 305" fill="none" stroke="#aebab8" stroke-width="1.2" stroke-linejoin="round" stroke-linecap="round"/>
<path d="M719.4 219.1L730.5 253.1L718.7 256.9L707.6 222.9Z" fill="url(#g_up)" stroke="#111" stroke-width="1" stroke-linejoin="round"/>
<path d="M717.2 256.6 L730.9 252.2 L734.4 251.9 L737.8 263.1 L735.9 265.9 L722.2 269.4 L718.8 267.5 L715 261.9 L715.3 258.8Z" fill="#a9b5ba" stroke="#222" stroke-width="0.7" stroke-linejoin="round"/>
<path d="M725.5 254.5 L729 267.5" fill="none" stroke="#c6d0d4" stroke-width="3" stroke-linejoin="round" stroke-linecap="round"/>
<path d="M717.2 256.6 C722 257.5 728 255.5 730.9 252.2" fill="none" stroke="#222" stroke-width="0.6" stroke-linejoin="round" stroke-linecap="round"/>
<path d="M735.5 352C735.6 350.3 731.6 351.3 737.5 349.5C743.4 347.7 758.5 344.2 765 343C771.5 341.8 768.7 342.6 770 343.3C771.3 344 771.6 345.2 771.5 346.5C771.4 347.8 775.6 347.6 769.5 350C763.4 352.4 747.5 356.9 741 358.5C734.5 360.1 738.1 359.3 737 358C735.9 356.7 735.4 353.7 735.5 352Z" fill="#e6e2e0" stroke="#222" stroke-width="0.7" stroke-linejoin="round" stroke-linecap="round"/>
<path d="M742.5 350.8 L744.2 352.6 L742.6 354.6 L740.8 352.7Z" fill="#333" stroke="none" stroke-width="0" stroke-linejoin="round"/>
<path d="M817.5 541.5 C806 543 796 548 788.5 556.5 C781 565 774.5 575 769.5 585 L774 586.5 C779 577 786 567 794 559.5 C800 553.5 809 549.5 819 548.5 Z" fill="#e4e0de" stroke="#222" stroke-width="0.7" stroke-linejoin="round" stroke-linecap="round"/>
<path d="M809.5 536 L822 541.5 L819 549 L810 545 Z" fill="#d9d5d3" stroke="#222" stroke-width="0.7" stroke-linejoin="round" stroke-linecap="round"/>
<path d="M883.6 599.8 L886.9 602.2 L886.7 604.1 L883 605.8 L882.8 606.8 L885.6 609.7 L885.2 611.6 L881.3 612.7 L880.9 613.7 L883.3 617 L882.6 618.7 L878.6 619.3 L878.1 620.2 L880 623.8 L879.1 625.4 L875 625.4 L874.4 626.3 L875.8 630.1 L874.6 631.6 L870.6 631 L869.9 631.8 L870.7 635.7 L869.3 637 L865.4 635.9 L864.6 636.5 L864.9 640.6 L863.3 641.6 L859.6 639.9 L858.7 640.5 L858.4 644.5 L856.7 645.4 L853.3 643.2 L852.3 643.6 L851.4 647.5 L849.6 648.1 L846.6 645.5 L845.5 645.7 L844.1 649.5 L842.2 649.8 L839.6 646.8 L838.5 646.9 L836.6 650.4 L834.7 650.5 L832.5 647.1 L831.4 647 L829 650.3 L827.1 650.1 L825.4 646.4 L824.4 646.2 L821.5 649 L819.6 648.6 L818.5 644.7 L817.5 644.3 L814.2 646.7 L812.5 646 L811.9 642 L811 641.5 L807.4 643.4 L805.8 642.5 L805.8 638.4 L804.9 637.8 L801.1 639.2 L799.6 638 L800.2 634 L799.4 633.3 L795.5 634.1 L794.2 632.7 L795.3 628.8 L794.7 628 L790.6 628.3 L789.6 626.7 L791.3 623 L790.7 622.1 L786.7 621.8 L785.8 620.1 L788 616.7 L787.6 615.7 L783.7 614.8 L783.1 613 L785.7 610 L785.5 608.9 L781.7 607.5 L781.4 605.6 L784.4 603 L784.3 601.9 L780.8 600 L780.7 598.1 L784.1 595.9 L784.2 594.8 L780.9 592.4 L781.1 590.5 L784.8 588.8 L785 587.8 L782.2 584.9 L782.6 583 L786.5 581.9 L786.9 580.9 L784.5 577.6 L785.2 575.9 L789.2 575.3 L789.7 574.4 L787.8 570.8 L788.7 569.2 L792.8 569.2 L793.4 568.3 L792 564.5 L793.2 563 L797.2 563.6 L797.9 562.8 L797.1 558.9 L798.5 557.6 L802.4 558.7 L803.2 558.1 L802.9 554 L804.5 553 L808.2 554.7 L809.1 554.1 L809.4 550.1 L811.1 549.2 L814.5 551.4 L815.5 551 L816.4 547.1 L818.2 546.5 L821.2 549.1 L822.3 548.9 L823.7 545.1 L825.6 544.8 L828.2 547.8 L829.3 547.7 L831.2 544.2 L833.1 544.1 L835.3 547.5 L836.4 547.6 L838.8 544.3 L840.7 544.5 L842.4 548.2 L843.4 548.4 L846.3 545.6 L848.2 546 L849.3 549.9 L850.3 550.3 L853.6 547.9 L855.3 548.6 L855.9 552.6 L856.8 553.1 L860.4 551.2 L862 552.1 L862 556.2 L862.9 556.8 L866.7 555.4 L868.2 556.6 L867.6 560.6 L868.4 561.3 L872.3 560.5 L873.6 561.9 L872.5 565.8 L873.1 566.6 L877.2 566.3 L878.2 567.9 L876.5 571.6 L877.1 572.5 L881.1 572.8 L882 574.5 L879.8 577.9 L880.2 578.9 L884.1 579.8 L884.7 581.6 L882.1 584.6 L882.3 585.7 L886.1 587.1 L886.4 589 L883.4 591.6 L883.5 592.7 L887 594.6 L887.1 596.5 L883.7 598.7ZM835.5 555.5 C837 555 838.5 556 839.5 557.8 L847.5 573.5 C848.5 576 847.5 578 845 578.3 L826 578.8 C823.6 578.8 822.6 577 823.8 574.6 L832.3 557.8 C833.1 556.4 834.3 555.6 835.5 555.5 ZM825.5 614.5 L843 615 C845.2 615.2 846 616.8 845 618.8 L837.6 632.6 C836.4 634.6 834.2 634.6 833 632.7 L823.6 618 C822.5 616.2 823.3 614.5 825.5 614.5 ZM806.5 579 C811 578.5 816.5 583.5 818.3 591 C819.5 596.5 819 603.5 816.5 608.5 C814 612.8 809 615 805.5 613.5 C801.2 609 799 602.5 799.3 595.5 C799.5 589 802.2 583 806.5 579 ZM856 586 C859 582 865 581 868.5 584 C870.5 590 871 597 870 604 C868.5 610 864 614 859 612 C855 609 853 604 853 597.5 C853 593 854 589 856 586 ZM812 570.8 a2.4 2.4 0 1 0 0.01 0 ZM811.3 616.2 a2.4 2.4 0 1 0 0.01 0 Z" fill="#483e37" fill-rule="evenodd" stroke="#241f1c" stroke-width="0.5"/>
<path d="M829.5 562.5 L841.5 562.5 L838 557 L833 557 Z" fill="#483e37" stroke="none" stroke-width="0" stroke-linejoin="round" stroke-linecap="round"/>
<path d="M826 573 L845.5 573 L846 570 L825.5 570 Z" fill="#6d6560" stroke="none" stroke-width="0" stroke-linejoin="round" stroke-linecap="round"/>
<path d="M828 627 L842 627 L843.5 624.5 L826.5 624.5 Z" fill="#6d6560" stroke="none" stroke-width="0" stroke-linejoin="round" stroke-linecap="round"/>
<ellipse cx="807" cy="570.4" rx="10.5" ry="3.9" fill="#39312b" stroke="#241f1c" stroke-width="0.6" transform="rotate(-45 807 570.4)"/>
<path d="M800.7 577.2L802 575.2M803.9 572.7L805.4 571M807.6 568.8L809.3 567.3M811.8 565.4L813.8 564.1" stroke="#efecea" stroke-width="1.4" fill="none"/>
<ellipse cx="860.8" cy="570.4" rx="10.5" ry="3.9" fill="#39312b" stroke="#241f1c" stroke-width="0.6" transform="rotate(45 860.8 570.4)"/>
<path d="M854 564.1L856 565.4M858.5 567.3L860.2 568.8M862.4 571L863.9 572.7M865.8 575.2L867.1 577.2" stroke="#efecea" stroke-width="1.4" fill="none"/>
<ellipse cx="860.8" cy="624.2" rx="10.5" ry="3.9" fill="#39312b" stroke="#241f1c" stroke-width="0.6" transform="rotate(135 860.8 624.2)"/>
<path d="M867.1 617.4L865.8 619.4M863.9 621.9L862.4 623.6M860.2 625.8L858.5 627.3M856 629.2L854 630.5" stroke="#efecea" stroke-width="1.4" fill="none"/>
<ellipse cx="807" cy="624.2" rx="10.5" ry="3.9" fill="#39312b" stroke="#241f1c" stroke-width="0.6" transform="rotate(225 807 624.2)"/>
<path d="M813.8 630.5L811.8 629.2M809.3 627.3L807.6 625.8M805.4 623.6L803.9 621.9M802 619.4L800.7 617.4" stroke="#efecea" stroke-width="1.4" fill="none"/>
<circle cx="855.9" cy="575.8" r="2.4" fill="#2c2521" stroke="none" stroke-width="0.8"/>
<circle cx="854.6" cy="619.7" r="2.4" fill="#2c2521" stroke="none" stroke-width="0.8"/>
<circle cx="812" cy="573.2" r="2.3" fill="#efecea" stroke="#241f1c" stroke-width="0.5"/>
<circle cx="811.3" cy="618.6" r="2.3" fill="#efecea" stroke="#241f1c" stroke-width="0.5"/>
<path d="M795.8 613.8L795 611.9M794.1 609L793.6 607M793 604.1L792.7 602M792.4 599.1L792.4 597M792.5 594L792.7 591.9M793.2 589L793.7 587M794.6 584.1L795.3 582.1M872 580.8L872.8 582.7M873.9 586.3L874.4 588.3M875.1 591.9L875.3 594M875.4 597.7L875.3 599.8M874.9 603.5L874.6 605.5M873.7 609.1L873 611.1" stroke="#efecea" stroke-width="1.5" fill="none"/>
<path d="M833.5 585.8 C826.5 585.8 821.8 591 821.8 597.5 C821.8 604 826 609.3 833 609.6 L919.5 611.6 L919.5 592.6 Z" fill="#66c833" stroke="#12330a" stroke-width="0.9" stroke-linejoin="round" stroke-linecap="round"/>
<circle cx="834.1" cy="598.4" r="5.7" fill="#e4e0e4" stroke="#12330a" stroke-width="0.8"/>
<path d="M919.3 592.1 L930.7 591.9 L937.5 593.6 L945.2 598.7 L946.2 604 L957.9 620.9 L957.4 632.6 L949.6 636.4 L941.6 636.4 L922.3 612.4 L917 604.8Z" fill="#e2dede" stroke="#222" stroke-width="0.7" stroke-linejoin="round"/>
<path d="M926.5 594.6 C929 592.6 933 592.2 935.8 592.9 C938.5 593.6 940.5 595 941.8 596.6 C944.5 599.5 944 602 945.6 604.6 L955.4 621.8 C956.4 624 955.8 627.5 954.5 629.6 C953.5 631.4 951.5 632.3 950 631.6 L940.9 620.9 L926.5 605.7 C924.5 603.5 923.6 601 924.2 598.5 C924.6 596.8 925.3 595.5 926.5 594.6 Z" fill="#0f8a68" stroke="#063" stroke-width="0.6" stroke-linejoin="round" stroke-linecap="round"/>
<ellipse cx="941.3" cy="631.3" rx="3.6" ry="1.5" fill="#e2dede" stroke="#222" stroke-width="0.6" transform="rotate(42 941.3 631.3)"/>
<path d="M948.5 636.8 L957 632.8 L957.5 635 L950 638.8 Z" fill="#222" stroke="none" stroke-width="0.8" stroke-linejoin="round" stroke-linecap="round"/>
<g><g clip-path="url(#clip_front)">
<path d="M1396.3 569.8 L1396.3 573.6 L1399 573.7 L1398.8 579.4 L1398.1 579.4 L1398 580.9 L1398.8 580.9 L1398.4 586.6 L1395 586.3 L1394.5 590.6 L1397.6 590.9 L1396.9 596.3 L1396.5 596.3 L1396.3 597.8 L1397.1 597.9 L1396.2 603.3 L1392.8 602.7 L1392.1 606.6 L1395.1 607.2 L1393.9 612.7 L1393.5 612.6 L1393.2 614.1 L1393.8 614.2 L1392.4 619.6 L1389.9 619 L1389 622.3 L1391.6 623.1 L1389.9 628.7 L1388.8 628.4 L1388.4 629.8 L1389.4 630.1 L1387.5 635.7 L1384.7 634.7 L1383.2 638.9 L1385.9 639.9 L1383.9 644.9 L1382.9 644.5 L1382.3 645.9 L1383.3 646.3 L1381.1 651.2 L1378.8 650.1 L1377.4 653.1 L1379.4 654.1 L1376.7 659.4 L1376.1 659.1 L1375.4 660.4 L1376 660.7 L1373.2 665.9 L1370.8 664.6 L1369 667.6 L1371.7 669.2 L1368.6 674.2 L1367.7 673.6 L1366.9 674.9 L1367.7 675.4 L1364.5 680.2 L1362.5 678.9 L1360.4 681.9 L1362.2 683.1 L1358.7 687.8 L1358.2 687.3 L1357.3 688.5 L1358.1 689.2 L1354.5 693.7 L1352.2 691.7 L1349.9 694.5 L1352.1 696.5 L1348.3 700.8 L1347.6 700.1 L1346.6 701.2 L1347.2 701.9 L1343.3 706 L1341.4 704.2 L1338.6 707.1 L1340.4 709 L1336.4 712.8 L1335.7 712.1 L1334.6 713.1 L1335.3 713.9 L1331.2 717.5 L1329.3 715.3 L1326.5 717.6 L1328.4 719.9 L1323.9 723.5 L1323.5 723 L1322.3 723.9 L1322.5 724.2 L1317.9 727.6 L1316.4 725.5 L1313.6 727.5 L1315.2 729.8 L1310.4 733.1 L1309.9 732.3 L1308.6 733.2 L1309.1 733.9 L1304.1 737 L1302.7 734.6 L1299.4 736.5 L1300.9 739 L1295.9 741.8 L1295.4 740.9 L1294.1 741.6 L1294.4 742.2 L1289.4 744.8 L1288.2 742.4 L1285 744 L1286.2 746.6 L1281 748.9 L1280.7 748.4 L1279.4 749 L1279.6 749.6 L1274.3 751.8 L1273.2 749 L1269.7 750.3 L1270.7 753.2 L1265.3 755 L1265 754.1 L1263.6 754.5 L1263.9 755.5 L1258.5 757.2 L1257.6 754.3 L1254.2 755.2 L1254.9 758.1 L1249.4 759.5 L1249.2 759 L1247.8 759.3 L1247.8 759.6 L1242.2 760.9 L1241.7 758.1 L1237.4 758.9 L1237.8 761.7 L1232.6 762.6 L1232.5 761.9 L1231 762.1 L1231.1 763.2 L1225.8 763.9 L1225.5 760.6 L1222.1 761 L1222.4 764.1 L1216.5 764.6 L1216.5 764 L1215 764.1 L1215 764.5 L1209.2 764.7 L1209.1 761.7 L1205 761.8 L1205 765.1 L1199.5 765.1 L1199.5 764 L1198 763.9 L1198 765.1 L1192.5 764.9 L1192.7 761.7 L1188.5 761.4 L1188.2 764.6 L1182.8 764.2 L1182.9 763.3 L1181.4 763.2 L1181.3 763.6 L1175.9 762.9 L1176.4 759.6 L1172.7 759 L1172.1 762.3 L1166.5 761.3 L1166.6 760.9 L1165.1 760.6 L1164.9 761.5 L1159.4 760.3 L1160.3 756.5 L1156.7 755.6 L1155.9 759 L1150.3 757.5 L1150.6 756.6 L1149.1 756.2 L1148.8 757.4 L1143.2 755.7 L1144.3 752.7 L1140 751.2 L1138.9 754.4 L1133.8 752.6 L1134.4 751.2 L1133 750.7 L1132.6 751.6 L1127.6 749.6 L1129.2 746.1 L1125.1 744.3 L1123.3 748.1 L1118.4 745.9 L1118.8 745.1 L1117.5 744.4 L1117.2 744.9 L1112.4 742.5 L1114.2 739.2 L1110.5 737.2 L1108.5 740.8 L1103.7 738 L1104.2 737.2 L1102.9 736.5 L1102.6 736.9 L1097.9 734 L1100.2 730.4 L1097.4 728.5 L1094.7 732.6 L1089.8 729.2 L1090.8 727.9 L1089.5 727 L1088.9 727.9 L1084.1 724.3 L1086.6 721.2 L1083.5 718.7 L1080.5 722.3 L1076.2 718.7 L1076.9 717.8 L1075.8 716.8 L1075.4 717.2 L1071.2 713.5 L1074.1 710.4 L1070.9 707.3 L1067.5 710.9 L1063.6 707 L1064.9 705.7 L1063.9 704.6 L1062.6 705.8 L1058.9 701.9 L1062.9 698.2 L1060.6 695.6 L1056.5 699.2 L1052.6 694.7 L1054 693.6 L1053 692.4 L1051.5 693.6 L1047.8 689 L1052.4 685.5 L1050.3 682.6 L1046.1 685.7 L1042.7 680.9 L1043.8 680.1 L1042.9 678.9 L1041.2 680 L1038 675.1 L1042.6 672.2 L1040.3 668.4 L1035.5 671.2 L1032.8 666.5 L1034.6 665.5 L1033.8 664.2 L1032.2 665.1 L1029.6 660.3 L1035 657.5 L1033.5 654.5 L1028.4 657 L1025.8 651.5 L1026.5 651.2 L1025.8 649.9 L1025.2 650.1 L1022.8 644.6 L1027.5 642.7 L1026 638.8 L1020.7 640.8 L1018.7 635.6 L1019.9 635.2 L1019.4 633.7 L1018 634.2 L1016.2 628.9 L1021.3 627.2 L1020.2 623.5 L1015.7 624.8 L1014.1 619.3 L1015.6 618.9 L1015.2 617.4 L1013.8 617.8 L1012.4 612.2 L1017.1 611.2 L1016.3 607.6 L1010.9 608.7 L1009.7 602.9 L1012.1 602.5 L1011.8 601 L1009.7 601.3 L1008.8 595.4 L1015.4 594.6 L1015 591 L1008.1 591.8 L1007.5 585.9 L1009.9 585.7 L1009.8 584.2 L1008.2 584.3 L1007.8 578.3 L1013.4 578.1 L1013.3 574.5 L1007.7 574.6 L1007.6 568.7 L1009.2 568.7 L1009.2 567.2 L1007.6 567.2 L1007.8 561.3 L1013.4 561.5 L1013.6 558 L1007.1 557.6 L1007.6 551.6 L1010 551.8 L1010.1 550.3 L1008.5 550.1 L1009.2 544.2 L1014.8 544.9 L1015.3 541.2 L1009.2 540.3 L1010.1 534.5 L1012.2 534.9 L1012.5 533.4 L1010.1 533 L1011.3 527.2 L1018.2 528.7 L1019 525.4 L1012.3 523.9 L1013.8 518 L1015.1 518.3 L1015.5 516.9 L1014 516.4 L1015.7 510.6 L1022.4 512.7 L1023.6 509.2 L1017.6 507.2 L1019.6 501.7 L1021.1 502.2 L1021.6 500.8 L1019.6 500 L1021.7 494.5 L1027.4 496.9 L1028.7 493.7 L1023.1 491.3 L1025.6 485.8 L1027.5 486.7 L1028.2 485.3 L1026.7 484.7 L1029.4 479.3 L1033.8 481.5 L1035.3 478.5 L1030.6 475.9 L1033.5 470.6 L1035.3 471.7 L1036.1 470.4 L1034.1 469.2 L1037.2 464.1 L1043 467.7 L1045.2 464.2 L1039.8 460.6 L1042.9 455.9 L1044 456.7 L1044.9 455.4 L1044.3 455 L1047.6 450.5 L1052.3 454 L1054.8 450.8 L1049.8 446.8 L1053.4 442.4 L1054.9 443.7 L1055.9 442.6 L1054.4 441.3 L1058.1 437 L1061.9 440.5 L1064.6 437.5 L1060.7 433.9 L1064.7 429.8 L1065.8 430.8 L1066.8 429.8 L1066 428.9 L1070.1 425 L1073.5 428.6 L1076.5 425.9 L1073.5 422.6 L1077.8 418.9 L1078.7 420 L1079.9 419 L1079 417.9 L1083.4 414.4 L1086.5 418.2 L1089.7 415.8 L1086.4 411.5 L1091 408.2 L1091.7 409.1 L1092.9 408.3 L1092.3 407.3 L1097 404.2 L1099.6 408.1 L1103.3 405.7 L1100.7 401.6 L1105.4 398.8 L1106.1 400 L1107.4 399.2 L1106.8 398.2 L1111.6 395.6 L1113.8 399.6 L1117.2 397.9 L1115.3 394.2 L1120.5 391.7 L1121 392.9 L1122.4 392.3 L1121.7 390.7 L1126.9 388.4 L1128.9 392.9 L1132.6 391.4 L1130.9 387.2 L1136.1 385.2 L1136.6 386.4 L1138 385.9 L1137.3 384.1 L1142.7 382.3 L1144.1 386.5 L1147.4 385.5 L1146.1 381.2 L1151.8 379.6 L1152.1 380.8 L1153.6 380.4 L1153.3 379.4 L1159 378 L1160.1 382.5 L1164.3 381.5 L1163.4 377 L1168.7 376 L1169 377.6 L1170.5 377.3 L1170.2 375.6 L1175.6 374.7 L1176.2 378.9 L1180.2 378.3 L1179.7 374.8 L1185.3 374.2 L1185.4 374.7 L1186.9 374.6 L1186.8 373.5 L1192.4 373.1 L1192.7 377.6 L1197 377.4 L1196.9 373.5 L1202.3 373.4 L1202.3 373.9 L1203.8 373.9 L1203.8 373 L1209.2 373.1 L1209.1 377.7 L1213.2 377.8 L1213.4 373.1 L1218.9 373.4 L1218.9 374.5 L1220.4 374.6 L1220.4 374.1 L1225.9 374.7 L1225.5 378.4 L1229.8 378.9 L1230.3 375.2 L1235.7 376.1 L1235.6 376.6 L1237.1 376.8 L1237.2 376.3 L1242.5 377.3 L1241.8 380.9 L1245.2 381.6 L1246 377.7 L1251.7 379.1 L1251.4 380.4 L1252.9 380.8 L1253.2 379.3 L1258.9 380.9 L1257.8 384.8 L1261 385.7 L1262 382.4 L1267.6 384.3 L1267.3 385.2 L1268.7 385.7 L1269.2 384.5 L1274.7 386.5 L1273.2 390.4 L1276.8 391.8 L1278.4 388 L1283.6 390.3 L1283.2 391 L1284.6 391.6 L1285 390.8 L1290.1 393.2 L1288.6 396.3 L1292.1 398.1 L1293.6 395.1 L1298.6 397.8 L1298.2 398.5 L1299.5 399.3 L1299.9 398.6 L1304.8 401.4 L1302.7 404.9 L1305.6 406.6 L1307.7 403.2 L1312.7 406.5 L1312 407.5 L1313.2 408.4 L1314 407.2 L1318.8 410.6 L1316.9 413.3 L1320.2 415.8 L1322.1 413.3 L1326.5 416.7 L1326 417.3 L1327.1 418.3 L1327.7 417.5 L1332 421.1 L1329.3 424.2 L1332.5 427 L1335.2 424 L1339.2 427.8 L1338.2 428.7 L1339.3 429.8 L1340.2 428.9 L1344 432.8 L1341.3 435.5 L1343.9 438.2 L1346.7 435.6 L1350.5 439.9 L1349.6 440.7 L1350.6 441.8 L1351.3 441.2 L1354.9 445.6 L1352.8 447.3 L1355.5 450.6 L1357.6 448.9 L1360.9 453.3 L1360.6 453.6 L1361.5 454.8 L1361.8 454.5 L1365 459 L1362.7 460.6 L1365 463.9 L1367.6 462.2 L1370.6 467 L1369.8 467.4 L1370.6 468.7 L1371 468.5 L1373.8 473.3 L1370.8 475 L1372.8 478.6 L1376.1 476.8 L1378.6 481.8 L1377.9 482.1 L1378.6 483.5 L1379 483.3 L1381.4 488.3 L1378.6 489.5 L1380.3 493.3 L1383.4 492 L1385.6 497.1 L1384.4 497.6 L1384.9 499 L1385.7 498.7 L1387.6 503.9 L1384.8 504.9 L1386 508.3 L1389.2 507.2 L1391 512.7 L1389.8 513.1 L1390.2 514.6 L1391.3 514.2 L1392.8 519.9 L1390 520.6 L1391.1 524.8 L1393.6 524.2 L1394.8 529.5 L1393.9 529.7 L1394.2 531.2 L1395.3 530.9 L1396.3 536.3 L1393.5 536.8 L1394.2 541.1 L1397 540.7 L1397.7 546.1 L1396.6 546.2 L1396.8 547.7 L1397.9 547.6 L1398.4 553 L1395.6 553.2 L1395.9 557.1 L1398.4 556.9 L1398.7 562.6 L1398.3 562.6 L1398.3 564.1 L1399.1 564.1 L1399.2 569.8Z" fill="#333"/>
<ellipse cx="1204.8" cy="569" rx="173.6" ry="177" fill="#aad400"/>
<ellipse cx="1203.6" cy="569.3" rx="164.2" ry="168.8" fill="#b4b4b6"/>
<path d="M1355 568.4C1354.9 572.9 1354.5 577.3 1354 581.8C1353.5 586.2 1352.8 590.6 1351.9 594.9C1351 599.3 1350 603.6 1348.7 607.9C1347.5 612.1 1346.1 616.3 1344.5 620.5C1342.9 624.6 1341.1 628.7 1339.2 632.7C1337.3 636.7 1335.3 640.6 1333.1 644.4C1330.8 648.2 1328.5 652 1326 655.6C1323.5 659.3 1320.8 662.8 1318 666.3C1315.3 669.7 1312.3 673 1309.3 676.3C1306.3 679.6 1303.2 682.7 1299.9 685.8C1296.7 688.9 1293.4 692 1289.9 694.8C1286.5 697.7 1282.9 700.5 1279.2 703.1C1275.5 705.7 1271.6 708.2 1267.6 710.4C1263.6 712.6 1259.5 714.7 1255.3 716.5C1251.1 718.4 1246.8 720.1 1242.4 721.5C1238.1 723 1233.6 724.3 1229.1 725.4C1224.6 726.4 1219.9 727.2 1215.3 727.7C1210.7 728.2 1206 728.4 1201.4 728.4C1196.8 728.4 1192.1 728 1187.5 727.4C1182.9 726.9 1178.3 726 1173.8 725C1169.3 724 1164.8 722.7 1160.5 721.2C1156.1 719.7 1151.8 718 1147.7 716.1C1143.5 714.2 1139.4 712.1 1135.4 709.8C1131.5 707.6 1127.6 705.1 1123.9 702.6C1120.2 700 1116.6 697.3 1113.1 694.5C1109.6 691.6 1106.3 688.7 1103.1 685.6C1099.8 682.5 1096.7 679.4 1093.7 676.1C1090.7 672.8 1087.8 669.5 1085 666C1082.3 662.6 1079.6 659 1077.1 655.4C1074.6 651.8 1072.2 648.1 1070 644.3C1067.7 640.5 1065.6 636.6 1063.7 632.6C1061.7 628.7 1059.9 624.6 1058.3 620.5C1056.7 616.4 1055.2 612.2 1053.9 607.9C1052.7 603.7 1051.6 599.3 1050.7 595C1049.8 590.6 1049.1 586.2 1048.6 581.8C1048.1 577.3 1047.8 572.9 1047.8 568.4C1047.8 563.9 1048 559.5 1048.5 555C1049 550.6 1049.8 546.2 1050.7 541.8C1051.7 537.5 1052.9 533.2 1054.2 529C1055.5 524.7 1057 520.5 1058.6 516.4C1060.2 512.3 1062 508.2 1063.9 504.3C1065.9 500.4 1068.1 496.5 1070.4 492.8C1072.7 489 1075.2 485.4 1077.7 481.8C1080.3 478.2 1083 474.8 1085.8 471.4C1088.6 468 1091.5 464.7 1094.4 461.4C1097.4 458.2 1100.5 455 1103.7 451.9C1106.8 448.8 1110.2 445.9 1113.6 443C1117.1 440.2 1120.6 437.5 1124.3 434.9C1128 432.3 1131.8 429.9 1135.8 427.6C1139.7 425.4 1143.7 423.2 1147.9 421.3C1152 419.4 1156.3 417.7 1160.6 416.2C1164.9 414.6 1169.4 413.3 1173.9 412.2C1178.3 411.1 1182.9 410.2 1187.5 409.6C1192.1 409 1196.8 408.6 1201.4 408.4C1206 408.2 1210.7 408.3 1215.4 408.6C1220 408.9 1224.7 409.4 1229.3 410.2C1233.9 410.9 1238.5 411.8 1243 413C1247.6 414.2 1252 415.6 1256.4 417.2C1260.8 418.8 1265.2 420.6 1269.4 422.6C1273.6 424.6 1277.7 426.8 1281.7 429.2C1285.7 431.6 1289.6 434.2 1293.4 437C1297.2 439.8 1300.8 442.7 1304.3 445.8C1307.7 448.9 1311.1 452.2 1314.2 455.6C1317.4 459 1320.4 462.5 1323.2 466.2C1326 469.9 1328.6 473.7 1331.1 477.6C1333.5 481.5 1335.8 485.5 1337.9 489.6C1339.9 493.7 1341.8 497.9 1343.5 502.1C1345.2 506.4 1346.7 510.7 1348 515C1349.3 519.4 1350.5 523.8 1351.4 528.2C1352.4 532.6 1353.1 537.1 1353.7 541.5C1354.3 546 1354.7 550.5 1354.9 555C1355.1 559.4 1355.1 563.9 1355 568.4Z" fill="#333"/>
</g></g>
<path d="M1119.5 437.7 L1127.5 432.6 L1182.8 557 L1184 565.5 L1176.2 568.3 L1164.1 564.5 L1163.5 549 L1161 541.5 L1157.1 539.4 L1152 537.5 L1151.3 535.3 L1152 533.2 L1156.5 526Z" fill="#88aa00" stroke="#1d2600" stroke-width="0.7" stroke-linejoin="round"/>
<circle cx="1154.8" cy="536.4" r="0.8" fill="#eef5cc" stroke="none" stroke-width="0.8"/>
<path d="M1351.5 582.5L1205.3 587M1345.2 611.3L1210.6 561M1333.7 638.4L1199.4 586.9M1317.7 663.1L1214.8 564.8M1297.7 684.9L1194 584.8M1274.4 703.8L1217.1 569.9M1247.3 717.7L1189.9 580.8M1217.5 725.5L1217.3 575.5M1186.5 725.4L1187.8 575.6M1156.7 717.9L1215.1 580.7M1129.6 704.2L1187.8 570.1M1105.9 685.8L1211.1 584.7M1085.8 664.2L1190.1 565M1069.4 639.8L1205.7 586.9M1057.4 613L1194.3 561.1M1050.7 584.2L1199.9 587M1050.4 554.5L1199.7 559M1057.2 525.7L1194.4 585M1069 498.8L1205.6 559.1M1085.5 474.7L1190.2 581.2M1105.2 453L1211 561.2M1128.4 434.4L1187.9 576.1M1155.2 420.3L1215.1 565.2M1184.8 412.1L1187.7 570.5M1215.7 410.8L1217.2 570.4M1246.4 416.2L1189.9 565.3M1275.1 428.1L1217.2 575.9M1300.7 445.8L1193.9 561.3M1321.8 468.3L1214.9 581M1337.6 494.5L1199.3 559.1M1347.8 523.1L1210.7 584.9M1352.3 552.7L1205.1 559" fill="none" stroke="#000" stroke-width="1.25"/>
<path d="M691.9 683.2 L686.8 677.6" stroke="#6e6c5c" stroke-width="2.6" fill="none"/>
<path d="M687.4 678.2 L682.2 674.2" stroke="#3c3c3c" stroke-width="4.2" stroke-linecap="round" fill="none"/>
<path d="M1315.6 650 L1311.3 646.6" stroke="#3c3c3c" stroke-width="4.4" stroke-linecap="round" fill="none"/>
<ellipse cx="1201.8" cy="572.5" rx="24" ry="21.5" fill="#2b1100" stroke="none" stroke-width="0" transform="rotate(40 1201.8 572.5)"/>
<circle cx="1220.6" cy="575.5" r="1.2" fill="#fff" stroke="none" stroke-width="0.8"/>
<circle cx="1214.5" cy="586.1" r="1.2" fill="#fff" stroke="none" stroke-width="0.8"/>
<circle cx="1202.5" cy="590.7" r="1.2" fill="#fff" stroke="none" stroke-width="0.8"/>
<circle cx="1190.1" cy="586.9" r="1.2" fill="#fff" stroke="none" stroke-width="0.8"/>
<circle cx="1183.2" cy="576.7" r="1.2" fill="#fff" stroke="none" stroke-width="0.8"/>
<circle cx="1185" cy="564.7" r="1.2" fill="#fff" stroke="none" stroke-width="0.8"/>
<circle cx="1194.7" cy="556.6" r="1.2" fill="#fff" stroke="none" stroke-width="0.8"/>
<circle cx="1207.7" cy="556.2" r="1.2" fill="#fff" stroke="none" stroke-width="0.8"/>
<circle cx="1217.9" cy="563.6" r="1.2" fill="#fff" stroke="none" stroke-width="0.8"/>
<path d="M1091.5 367.5 L1106 363 L1112 372 L1116 401.5 L1112 404 L1103.5 396.5 L1101 392Z" fill="#3a1a08" stroke="none" stroke-width="0" stroke-linejoin="round"/>
<path d="M1104.5 364.5 L1121.6 359.5 L1130.6 378.7 L1130.4 410.2 L1126.1 422.5 L1122.5 416 L1116.2 402 L1110.5 386Z" fill="#2b1100" stroke="none" stroke-width="0" stroke-linejoin="round"/>
<path d="M1091.5 367.5l-1.8 1.4l2.6 2.2M1093.2 371.6l-1.8 1.4l2.6 2.2M1094.9 375.8l-1.8 1.4l2.6 2.2M1096.6 379.9l-1.8 1.4l2.6 2.2M1098.4 384.1l-1.8 1.4l2.6 2.2M1100.1 388.2l-1.8 1.4l2.6 2.2M1101.8 392.4l-1.8 1.4l2.6 2.2" fill="none" stroke="#3a1a08" stroke-width="1.8"/>
<path d="M1130.8 380.4 L1133.9 379.1 L1141 389.3 L1148.6 402 L1151.1 407.1 L1153.7 416 L1158.8 436.4 L1159.4 439.6 L1156.9 440.9 L1202.6 551.2 L1211.9 564.3 L1218.3 571.9 L1219.8 577 L1218.3 581 L1211.9 582.5 L1204.3 580 L1192.8 578.5 L1186.4 571.9 L1182.8 557 L1127.5 432.6 L1125.7 423.7 L1131.4 411Z" fill="#aad400" stroke="#1d2600" stroke-width="0.8" stroke-linejoin="round"/>
<path d="M1076 341.5C1076.8 339.2 1077.8 338.9 1082 337.5C1086.2 336.1 1091.6 334.6 1097.2 334.5C1102.8 334.4 1105.9 335.5 1110 337C1114.1 338.5 1115.3 339.4 1117.5 342C1119.7 344.6 1120.1 346.5 1121 350C1121.9 353.5 1126.7 356 1122 359.5C1117.3 363 1103.5 365.9 1097.5 367.5C1091.5 369.1 1093.9 369 1092 367.5C1090.1 366 1089.4 362.7 1088 360C1086.6 357.3 1087 356.2 1085 354C1083 351.8 1079.8 351.5 1078 349C1076.2 346.5 1075.2 343.8 1076 341.5Z" fill="#e6e2e0" stroke="#222" stroke-width="0.7" stroke-linejoin="round" stroke-linecap="round"/>
<path d="M1086 354.5 C1092 356 1097 352 1099.5 347 C1104 348 1110 346.5 1114.5 343" fill="none" stroke="#222" stroke-width="0.6" stroke-linejoin="round" stroke-linecap="round"/>
<ellipse cx="1086.5" cy="335.3" rx="13.2" ry="4.6" fill="#483e37" stroke="#241f1c" stroke-width="0.5" transform="rotate(-14 1086.5 335.3)"/>
<ellipse cx="1105.3" cy="342.2" rx="6.6" ry="3.2" fill="#5b524c" stroke="#241f1c" stroke-width="0.5" transform="rotate(-14 1105.3 342.2)"/>
<path d="M1099.3 344.6 C1101 347.5 1109 347 1112.5 342.5" fill="none" stroke="#8b8480" stroke-width="1.6" stroke-linejoin="round" stroke-linecap="round"/>
<path d="M1126.3 363.2 L1132 365.7 L1137.1 369.6" fill="none" stroke="#000" stroke-width="0.9" stroke-linejoin="round" stroke-linecap="round"/>
<path d="M1134.6 373.4C1134.9 371.7 1135.9 370 1137.8 369.2C1139.7 368.3 1143.9 367.9 1146.1 368.4C1148.2 369 1150.4 371.5 1150.5 372.5C1150.6 373.5 1147.7 373.2 1146.7 374.3C1145.6 375.4 1144.4 377 1144.1 379.1C1143.9 381.2 1145.6 385.5 1145 387C1144.5 388.5 1142.4 389.6 1141 388.3C1139.5 387 1137.2 381.6 1136.1 379.1C1135.1 376.6 1134.3 375 1134.6 373.4Z" fill="#5c5552" stroke="#222" stroke-width="0.6" stroke-linejoin="round" stroke-linecap="round"/>
<ellipse cx="1146.1" cy="378.5" rx="2" ry="3.4" fill="#fff" stroke="none" stroke-width="0" transform="rotate(-25 1146.1 378.5)"/>
<path d="M1146.7 369.7C1147.1 369.3 1151.4 370 1152.7 371C1154 371.9 1154.7 372.3 1156.5 376.8C1158.3 381.3 1164.3 399.4 1166.4 404.6C1168.5 409.8 1172 414.4 1172.2 416.1C1172.4 417.7 1169.4 419.1 1168 417.3C1166.5 415.5 1163.4 407.7 1161.3 402.7C1159.3 397.6 1154 383.2 1152.4 379.4C1150.9 375.5 1150.4 375 1149.6 373.8C1148.9 372.5 1146.3 370.1 1146.7 369.7Z" fill="#a69e9a" stroke="#222" stroke-width="0.6" stroke-linejoin="round" stroke-linecap="round"/>
<path d="M1153.7 411.6C1154.6 410.3 1158.7 409.3 1161.3 408.7C1164 408 1169.2 406.7 1171.5 407.4C1173.8 408.1 1175.6 411.4 1176.6 413.5C1177.6 415.6 1177 419 1178.2 421.1C1179.3 423.3 1184.3 426.2 1184.5 427.8C1184.7 429.3 1181 430.4 1179.4 431.6C1177.9 432.7 1175.5 433.7 1174.3 435.4C1173.2 437.1 1172.9 441.9 1171.8 443.1C1170.6 444.2 1168 444 1166.7 443.1C1165.4 442.1 1164.1 439.2 1162.9 436.7C1161.7 434.2 1160 429.4 1158.8 426.5C1157.6 423.6 1155.7 419.8 1155 417.6C1154.2 415.3 1152.7 412.9 1153.7 411.6Z" fill="#2a2624" stroke="#111" stroke-width="0.5" stroke-linejoin="round" stroke-linecap="round"/>
<ellipse cx="1158.8" cy="418.9" rx="3" ry="5.6" fill="#f2f0ef" stroke="none" stroke-width="0" transform="rotate(-20 1158.8 418.9)"/>
<path d="M1164.5 431.3 L1169 434.5 L1173.4 429.8" fill="none" stroke="#f2f0ef" stroke-width="1.5" stroke-linejoin="round" stroke-linecap="round"/>
<path d="M1165.2 426.2 L1171.5 423.7" fill="none" stroke="#e4e0de" stroke-width="1.3" stroke-linejoin="round" stroke-linecap="round"/>
<path d="M1177.9 428.2 L1184.5 427.8 L1180.2 431.3Z" fill="#cfcac7" stroke="#222" stroke-width="0.4" stroke-linejoin="round" stroke-linecap="round"/>
<path d="M1168 417.3 L1172.2 416.1 L1175.1 423.7 L1177.9 427.5 L1175.1 429.8 L1171.5 425Z" fill="#8f8783" stroke="#222" stroke-width="0.5" stroke-linejoin="round" stroke-linecap="round"/>
<path d="M1078 276.5 C1105 268 1128 250 1138.5 222" fill="none" stroke="#000" stroke-width="1.1" stroke-linejoin="round" stroke-linecap="round"/>
<path d="M1096 223.5 C1115 226 1135 236 1146 254 C1152 270 1147 287 1130 300 C1115 310 1090 318 1082 325" fill="none" stroke="#000" stroke-width="1.1" stroke-linejoin="round" stroke-linecap="round"/>
<path d="M1132 220 C1140 232 1149 245 1148.5 262 C1148 280 1140 295 1120 307 C1105 315 1092 320 1083.5 327.5" fill="none" stroke="#000" stroke-width="1.1" stroke-linejoin="round" stroke-linecap="round"/>
<path d="M1050.5 268C1051.4 265.3 1050.3 265.8 1055 264.5C1059.7 263.2 1066 262.1 1070.5 262.5C1075 262.9 1073.5 264 1074.5 266C1075.5 268 1075.6 269 1075 271C1074.4 273 1076.9 272.5 1072 274.5C1067.1 276.5 1058.9 279.1 1054 279.5C1049.1 279.9 1051.8 278.7 1051 276C1050.2 273.3 1049.6 270.7 1050.5 268Z" fill="#483e37" stroke="#241f1c" stroke-width="0.5" stroke-linejoin="round" stroke-linecap="round"/>
<path d="M1052.5 267.5 L1071.5 262.5" fill="none" stroke="#e9e5e3" stroke-width="0.9" stroke-linejoin="round" stroke-linecap="round"/>
<path d="M1035.9 245.7 L1041.2 235.1 L1051.8 230.8 L1059.3 231.9 L1056 238.3 L1068.8 257.4 L1067.8 263.5 L1047.6 266.5 L1042.3 257.4 L1040.2 247.8Z" fill="#483e37" stroke="#241f1c" stroke-width="0.5" stroke-linejoin="round"/>
<path d="M1047.5 236.5 L1056.5 262.5" fill="none" stroke="#000" stroke-width="2.2" stroke-linejoin="round" stroke-linecap="round"/>
<path d="M1039.5 242.5 L1042.5 241.2 L1041.8 245 L1039.8 244.8Z" fill="#fff" stroke="none" stroke-width="0" stroke-linejoin="round"/>
<path d="M1045.6 259.6 L1049.6 258.6 L1049.8 262.2 L1047.2 263.2Z" fill="#fff" stroke="none" stroke-width="0" stroke-linejoin="round"/>
<path d="M1055 238.3 L1087.9 219.2 L1085.2 214.5 L1088 210.5 L1097 208.5 L1104.9 200.1 L1110 199.5 L1113.4 203.2 L1114 212 L1114.5 221.3 L1110 226.5 L1104.9 227.7 L1100.7 228.7 L1068.8 257.4Z" fill="#483e37" stroke="#241f1c" stroke-width="0.5" stroke-linejoin="round"/>
<path d="M1098 191C1099.1 189.5 1101.7 187.7 1103.9 187.5C1106 187.4 1108.9 188.5 1110.9 189.9C1112.8 191.2 1114.7 192.4 1115.5 195.7C1116.4 199 1116.3 205.8 1116.1 209.7C1115.9 213.6 1115.4 216.5 1114.4 219.1C1113.3 221.6 1111.6 223.5 1109.7 224.9C1107.8 226.3 1104.8 227.6 1102.7 227.2C1100.6 226.9 1098.4 223.9 1096.9 222.6C1095.3 221.2 1094.7 220 1093.4 219.1C1092 218.1 1090 217.7 1088.7 216.7C1087.3 215.8 1085 214.6 1085.2 213.2C1085.4 211.9 1087.5 209.7 1089.9 208.6C1092.2 207.4 1097.4 207.4 1099.2 206.2C1100.9 205.1 1100.7 203.1 1100.4 201.6C1100.1 200 1097.8 198.6 1097.4 196.9C1097.1 195.1 1097 192.6 1098 191Z" fill="#483e37" stroke="#241f1c" stroke-width="0.5" stroke-linejoin="round" stroke-linecap="round"/>
<path d="M1105 200.4C1106 201 1109.5 202.1 1110.9 203.9C1112.2 205.6 1113.2 208.4 1113.2 210.9C1113.2 213.4 1111.3 217.7 1110.9 219.1" fill="none" stroke="#241f1c" stroke-width="0.6" stroke-linejoin="round" stroke-linecap="round"/>
<path d="M1116.1 195.7C1118.5 192.9 1125 195.7 1128.4 196.9C1131.8 198.1 1131.3 198.8 1133.1 201.6C1134.8 204.4 1136.7 207.9 1137.1 210.9C1137.6 213.9 1136.7 214.9 1135.4 216.7C1134.1 218.6 1133.1 220.2 1130.7 220.2C1128.4 220.2 1126.5 218.6 1123.7 216.7C1120.9 214.9 1118.2 215.1 1116.7 210.9C1115.2 206.7 1113.8 198.5 1116.1 195.7Z" fill="#e6e2e0" stroke="#222" stroke-width="0.6" stroke-linejoin="round" stroke-linecap="round"/>
<path d="M1124.9 209.7 L1116.7 215.6" fill="none" stroke="#000" stroke-width="1" stroke-linejoin="round" stroke-linecap="round"/>
<path d="M1126 191C1126.8 190.5 1132.3 189.9 1135.4 191C1138.5 192.2 1142.2 197.5 1144.7 198.1C1147.3 198.6 1148.8 195.1 1150.6 194.6C1152.3 194 1153.1 193 1155.2 194.6C1157.4 196.1 1162.2 201.8 1163.4 203.9C1164.6 206 1163 206.6 1162.2 207.4C1161.5 208.2 1160.5 209.3 1158.7 208.6C1157 207.8 1153.1 202.5 1151.7 202.7C1150.4 202.9 1151.7 207.8 1150.6 209.7C1149.4 211.7 1146.5 214.2 1144.7 214.4C1143 214.6 1141.2 213.2 1140.1 210.9C1138.9 208.6 1139.3 203.1 1137.7 200.4C1136.2 197.7 1132.7 196.1 1130.7 194.6C1128.8 193 1125.3 191.6 1126 191Z" fill="#483e37" stroke="#241f1c" stroke-width="0.5" stroke-linejoin="round" stroke-linecap="round"/>
<path d="M1110.3 158.4 L1106.2 181.7 L1114.4 187.5 L1126 186.4 L1129.6 179.4 L1135.4 161.9Z" fill="#41403a" stroke="#111" stroke-width="0.5" stroke-linejoin="round" stroke-linecap="round"/>
<path d="M1110.9 187.5 L1126 186.4 L1129.6 180.5 L1137.7 186.4 L1135.4 191 L1126 189.9 L1119 194.6 L1114.4 193.4Z" fill="#aa2222" stroke="none" stroke-width="0" stroke-linejoin="round" stroke-linecap="round"/>
<ellipse cx="1124.3" cy="154.4" rx="14.2" ry="12.2" fill="#e6e2e0" stroke="#222" stroke-width="0.7" transform="rotate(-10 1124.3 154.4)"/>
<ellipse cx="1124.3" cy="153.7" rx="7.7" ry="7.2" fill="#483e37" stroke="none" stroke-width="0" transform="rotate(-10 1124.3 153.7)"/>
<path d="M626.9 193.8 L636.2 200.6 L637.5 198.1 L652.5 205 L662.5 210 L665 216.2 L671.2 221.9 L680 224 L691.9 224 L690.6 215 L717.5 211.9 L718.8 218.1 L720.2 221.5 L725.6 218.8 L735.6 211.9 L712.5 208.8 L662.5 200Z" fill="#241c1c" stroke="none" stroke-width="0" stroke-linejoin="round"/>
<path d="M691 216.5C691.4 216.1 693.6 218.7 695 219C696.4 219.3 698.5 219.1 700 218.5C701.5 217.9 703.5 215.8 705 215C706.5 214.2 708.2 212.8 709.8 213.5C711.3 214.2 714.1 217.2 715.6 219.4C717.2 221.6 720.4 225.6 720 228.1C719.6 230.7 714.4 235.8 713.1 236.2C711.8 236.7 711.9 232.4 711.2 231.2C710.6 230.1 709.9 228.8 708.8 228.5C707.6 228.2 705.2 228.7 703.8 229C702.2 229.3 700.1 231 698.8 230.6C697.4 230.2 695.9 227.6 695 226.2C694.1 224.9 693.1 223 692.5 221.5C691.9 220 690.6 216.9 691 216.5Z" fill="url(#g_head)" stroke="#333" stroke-width="0.6" stroke-linejoin="round" stroke-linecap="round"/>
<path d="M621.2 188.8C620.6 186.6 622.5 184.8 625 183.1C627.5 181.5 631.1 180.6 635 179.8C638.9 178.9 642.4 178.3 646.2 178.2C650.1 178.2 651 178.5 656.2 179.5C661.5 180.5 669.3 182.3 675 183.5C680.7 184.7 682.9 185.2 687.5 186.2C692.1 187.3 693.1 188.8 700 189.5C706.9 190.2 714.7 189.9 725 190C735.3 190.1 748.2 189.8 756.2 190.2C764.3 190.7 764.9 191.1 768.8 192.5C772.6 193.9 774.3 195.3 777.5 198.1C780.7 201 785.1 205.9 786.2 208.1C787.4 210.3 788.1 209.9 783.8 210.2C779.4 210.6 771 210 762.5 209.9C754 209.8 746.7 209.4 737.5 209.8C728.3 210.1 719.4 211.2 712.5 212C705.6 212.8 704.1 213.6 700 214.2C695.9 214.9 693.7 215.6 690 215.5C686.3 215.4 685 215 680 213.8C675 212.5 669.1 211 662.5 208.8C655.9 206.5 649.9 203.8 643.8 201.2C637.6 198.7 632.9 197.3 628.8 195C624.6 192.7 621.9 190.9 621.2 188.8Z" fill="#66c22f" stroke="#12330a" stroke-width="0.8" stroke-linejoin="round" stroke-linecap="round"/>
<g>
<text x="372.8" y="216" font-size="24.8" textLength="80" lengthAdjust="spacingAndGlyphs" class="b">Рама:</text>
<text x="293" y="266.3" font-size="23" textLength="158.4" lengthAdjust="spacingAndGlyphs">верхня труба</text>
<text x="297.4" y="291.7" font-size="23" textLength="153.6" lengthAdjust="spacingAndGlyphs">нижня труба</text>
<text x="287.5" y="317" font-size="23" textLength="163.5" lengthAdjust="spacingAndGlyphs">сідлова труба</text>
<text x="143.1" y="342.2" font-size="23" textLength="308" lengthAdjust="spacingAndGlyphs">верхня стійка трикутника</text>
<text x="148.7" y="367.5" font-size="23" textLength="302.4" lengthAdjust="spacingAndGlyphs">нижня стійка трикутника</text>
<text x="864.2" y="117.7" font-size="24.8" textLength="237.8" lengthAdjust="spacingAndGlyphs" class="b">Сідлова частина:</text>
<text x="863.6" y="167.7" font-size="23" textLength="61" lengthAdjust="spacingAndGlyphs">сідло</text>
<text x="863.6" y="193" font-size="23" textLength="230.4" lengthAdjust="spacingAndGlyphs">стрижень сідловий</text>
<text x="1348.9" y="125.8" font-size="24.8" textLength="247.9" lengthAdjust="spacingAndGlyphs" class="b">Передня частина:</text>
<text x="1348.2" y="176.4" font-size="23" textLength="133" lengthAdjust="spacingAndGlyphs">ручки руля</text>
<text x="1348.8" y="201.7" font-size="23" textLength="173" lengthAdjust="spacingAndGlyphs">головна труба</text>
<text x="1348.7" y="227" font-size="23" textLength="156.4" lengthAdjust="spacingAndGlyphs">амортизатор</text>
<text x="1348.8" y="252.3" font-size="23" textLength="187.3" lengthAdjust="spacingAndGlyphs">передні гальма</text>
<text x="1348.8" y="277.8" font-size="23" textLength="72.3" lengthAdjust="spacingAndGlyphs">вилка</text>
<text x="1482.9" y="501.3" font-size="24.8" textLength="105.6" lengthAdjust="spacingAndGlyphs" class="b">Колесо:</text>
<text x="1483.3" y="552.2" font-size="23" textLength="65.6" lengthAdjust="spacingAndGlyphs">спиці</text>
<text x="1482.8" y="577.5" font-size="23" textLength="119.9" lengthAdjust="spacingAndGlyphs">маточина</text>
<text x="1483.3" y="602.6" font-size="23" textLength="51.3" lengthAdjust="spacingAndGlyphs">обід</text>
<text x="1483.2" y="628" font-size="23" textLength="69" lengthAdjust="spacingAndGlyphs">шина</text>
<text x="1484.6" y="653.3" font-size="23" textLength="85.2" lengthAdjust="spacingAndGlyphs">хлипак</text>
<text x="162.1" y="567.8" font-size="23" textLength="155.1" lengthAdjust="spacingAndGlyphs">задні гальма</text>
<text x="96.3" y="593.1" font-size="23" textLength="220.8" lengthAdjust="spacingAndGlyphs">касета-тарахкалка</text>
<text x="-5.5" y="618.3" font-size="23" textLength="322.6" lengthAdjust="spacingAndGlyphs">задній перемикач передач</text>
<text x="21" y="780" font-size="23" textLength="359.2" lengthAdjust="spacingAndGlyphs">передній перемикач передач</text>
<text x="288.8" y="805.4" font-size="23" textLength="90" lengthAdjust="spacingAndGlyphs">ланцюг</text>
<text x="268.5" y="830.6" font-size="23" textLength="111.4" lengthAdjust="spacingAndGlyphs">шестірня</text>
<text x="1037.3" y="805.7" font-size="23" textLength="86.8" lengthAdjust="spacingAndGlyphs">педаль</text>
<text x="1037.3" y="830.9" font-size="23" textLength="160.6" lengthAdjust="spacingAndGlyphs">корба хитуна</text>
</g>
<path d="M466 267.6L926.5 326.6M466 292.8L932 469.7M466 318.5L789 446.8M466 343.4L701.6 435.9M466 368.3L701.9 587.5M853.3 166.6L705 202M853.3 193.6L736.3 286.9M1338.3 176.3L1118 174M1338.3 201.8L1076.5 298M1338.3 226.5L1118.5 380M1338.3 251.4L1166.9 417.3M1338.3 277.1L1162.2 485.9M1471.9 551.2L1266.4 551.5M1471.9 576.5L1211.2 576.8M1471.9 601.8L1357 602M1471.9 627L1378 627M1472 652.4L1318 652M328.3 568.1L667 444M328.3 592.5L583.7 573M328.3 618L605 627M391.2 778.1L789.5 558.2M391.2 804.1L741 643M391.2 829.4L836.9 638.8M1025.8 803.8L939.4 612.5M1025.8 830.8L872.8 599" fill="none" stroke="#1400ba" stroke-width="1.9" stroke-linecap="round"/>
<circle cx="931.6" cy="329.4" r="4.6" fill="#ff0000"/>
<circle cx="936.4" cy="472.6" r="4.6" fill="#ff0000"/>
<circle cx="789" cy="446.8" r="4.6" fill="#ff0000"/>
<circle cx="701.6" cy="435.9" r="4.6" fill="#ff0000"/>
<circle cx="701.9" cy="587.5" r="4.6" fill="#ff0000"/>
<circle cx="705" cy="202" r="4.6" fill="#ff0000"/>
<circle cx="736.3" cy="286.9" r="4.6" fill="#ff0000"/>
<circle cx="1118" cy="174" r="4.6" fill="#ff0000"/>
<circle cx="1074.8" cy="298.4" r="4.6" fill="#ff0000"/>
<circle cx="1118.5" cy="380" r="4.6" fill="#ff0000"/>
<circle cx="1166.9" cy="417.3" r="4.6" fill="#ff0000"/>
<circle cx="1162.2" cy="485.9" r="4.6" fill="#ff0000"/>
<circle cx="1266.4" cy="551.5" r="4.6" fill="#ff0000"/>
<circle cx="1211.2" cy="576.8" r="4.6" fill="#ff0000"/>
<circle cx="1357" cy="602" r="4.6" fill="#ff0000"/>
<circle cx="1378" cy="627" r="4.6" fill="#ff0000"/>
<path d="M1321.6 655.4 L1316.2 650.4" stroke="#ff0000" stroke-width="4.2" fill="none"/>
<circle cx="669" cy="443" r="4.6" fill="#ff0000"/>
<circle cx="583.7" cy="573" r="4.6" fill="#ff0000"/>
<circle cx="605" cy="627" r="4.6" fill="#ff0000"/>
<circle cx="792.3" cy="556" r="4.6" fill="#ff0000"/>
<circle cx="741" cy="643" r="4.6" fill="#ff0000"/>
<circle cx="836.9" cy="638.8" r="4.6" fill="#ff0000"/>
<circle cx="939.4" cy="612.5" r="4.6" fill="#ff0000"/>
<circle cx="872.8" cy="599" r="4.6" fill="#ff0000"/>
</svg>
</body></html>
